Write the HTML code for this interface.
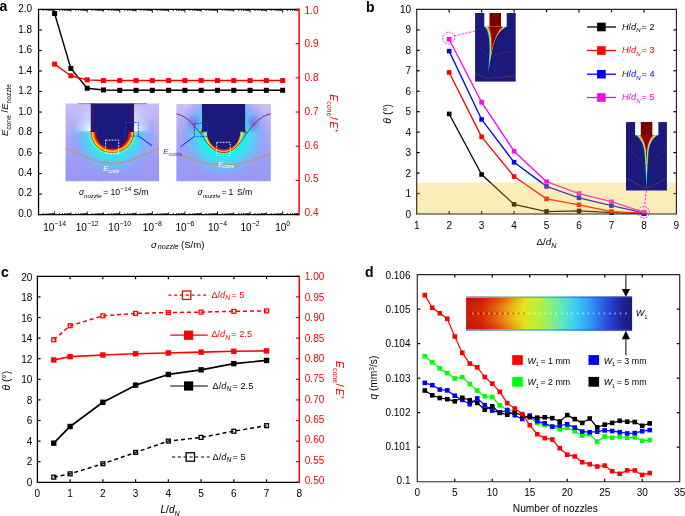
<!DOCTYPE html>
<html><head><meta charset="utf-8"><style>
html,body{margin:0;padding:0;background:#fff;}
svg{display:block;font-family:"Liberation Sans", sans-serif;will-change:transform;}
</style></head><body>
<svg width="685" height="516" viewBox="0 0 685 516">
<rect width="685" height="516" fill="#fff"/>
<text x="-0.60" y="11.30" font-size="14" text-anchor="start" fill="#000" font-weight="bold">a</text>
<line x1="43.20" y1="214.60" x2="43.20" y2="213.00" stroke="#000" stroke-width="0.8" />
<line x1="43.20" y1="9.45" x2="43.20" y2="11.05" stroke="#000" stroke-width="0.8" />
<line x1="46.07" y1="214.60" x2="46.07" y2="213.00" stroke="#000" stroke-width="0.8" />
<line x1="46.07" y1="9.45" x2="46.07" y2="11.05" stroke="#000" stroke-width="0.8" />
<line x1="48.11" y1="214.60" x2="48.11" y2="213.00" stroke="#000" stroke-width="0.8" />
<line x1="48.11" y1="9.45" x2="48.11" y2="11.05" stroke="#000" stroke-width="0.8" />
<line x1="49.69" y1="214.60" x2="49.69" y2="213.00" stroke="#000" stroke-width="0.8" />
<line x1="49.69" y1="9.45" x2="49.69" y2="11.05" stroke="#000" stroke-width="0.8" />
<line x1="50.98" y1="214.60" x2="50.98" y2="213.00" stroke="#000" stroke-width="0.8" />
<line x1="50.98" y1="9.45" x2="50.98" y2="11.05" stroke="#000" stroke-width="0.8" />
<line x1="52.07" y1="214.60" x2="52.07" y2="213.00" stroke="#000" stroke-width="0.8" />
<line x1="52.07" y1="9.45" x2="52.07" y2="11.05" stroke="#000" stroke-width="0.8" />
<line x1="53.01" y1="214.60" x2="53.01" y2="213.00" stroke="#000" stroke-width="0.8" />
<line x1="53.01" y1="9.45" x2="53.01" y2="11.05" stroke="#000" stroke-width="0.8" />
<line x1="53.84" y1="214.60" x2="53.84" y2="213.00" stroke="#000" stroke-width="0.8" />
<line x1="53.84" y1="9.45" x2="53.84" y2="11.05" stroke="#000" stroke-width="0.8" />
<line x1="59.49" y1="214.60" x2="59.49" y2="213.00" stroke="#000" stroke-width="0.8" />
<line x1="59.49" y1="9.45" x2="59.49" y2="11.05" stroke="#000" stroke-width="0.8" />
<line x1="62.36" y1="214.60" x2="62.36" y2="213.00" stroke="#000" stroke-width="0.8" />
<line x1="62.36" y1="9.45" x2="62.36" y2="11.05" stroke="#000" stroke-width="0.8" />
<line x1="64.40" y1="214.60" x2="64.40" y2="213.00" stroke="#000" stroke-width="0.8" />
<line x1="64.40" y1="9.45" x2="64.40" y2="11.05" stroke="#000" stroke-width="0.8" />
<line x1="65.98" y1="214.60" x2="65.98" y2="213.00" stroke="#000" stroke-width="0.8" />
<line x1="65.98" y1="9.45" x2="65.98" y2="11.05" stroke="#000" stroke-width="0.8" />
<line x1="67.27" y1="214.60" x2="67.27" y2="213.00" stroke="#000" stroke-width="0.8" />
<line x1="67.27" y1="9.45" x2="67.27" y2="11.05" stroke="#000" stroke-width="0.8" />
<line x1="68.36" y1="214.60" x2="68.36" y2="213.00" stroke="#000" stroke-width="0.8" />
<line x1="68.36" y1="9.45" x2="68.36" y2="11.05" stroke="#000" stroke-width="0.8" />
<line x1="69.30" y1="214.60" x2="69.30" y2="213.00" stroke="#000" stroke-width="0.8" />
<line x1="69.30" y1="9.45" x2="69.30" y2="11.05" stroke="#000" stroke-width="0.8" />
<line x1="70.13" y1="214.60" x2="70.13" y2="213.00" stroke="#000" stroke-width="0.8" />
<line x1="70.13" y1="9.45" x2="70.13" y2="11.05" stroke="#000" stroke-width="0.8" />
<line x1="54.59" y1="214.60" x2="54.59" y2="211.40" stroke="#000" stroke-width="0.9" />
<line x1="54.59" y1="9.45" x2="54.59" y2="12.65" stroke="#000" stroke-width="0.9" />
<line x1="75.78" y1="214.60" x2="75.78" y2="213.00" stroke="#000" stroke-width="0.8" />
<line x1="75.78" y1="9.45" x2="75.78" y2="11.05" stroke="#000" stroke-width="0.8" />
<line x1="78.65" y1="214.60" x2="78.65" y2="213.00" stroke="#000" stroke-width="0.8" />
<line x1="78.65" y1="9.45" x2="78.65" y2="11.05" stroke="#000" stroke-width="0.8" />
<line x1="80.69" y1="214.60" x2="80.69" y2="213.00" stroke="#000" stroke-width="0.8" />
<line x1="80.69" y1="9.45" x2="80.69" y2="11.05" stroke="#000" stroke-width="0.8" />
<line x1="82.27" y1="214.60" x2="82.27" y2="213.00" stroke="#000" stroke-width="0.8" />
<line x1="82.27" y1="9.45" x2="82.27" y2="11.05" stroke="#000" stroke-width="0.8" />
<line x1="83.56" y1="214.60" x2="83.56" y2="213.00" stroke="#000" stroke-width="0.8" />
<line x1="83.56" y1="9.45" x2="83.56" y2="11.05" stroke="#000" stroke-width="0.8" />
<line x1="84.65" y1="214.60" x2="84.65" y2="213.00" stroke="#000" stroke-width="0.8" />
<line x1="84.65" y1="9.45" x2="84.65" y2="11.05" stroke="#000" stroke-width="0.8" />
<line x1="85.59" y1="214.60" x2="85.59" y2="213.00" stroke="#000" stroke-width="0.8" />
<line x1="85.59" y1="9.45" x2="85.59" y2="11.05" stroke="#000" stroke-width="0.8" />
<line x1="86.42" y1="214.60" x2="86.42" y2="213.00" stroke="#000" stroke-width="0.8" />
<line x1="86.42" y1="9.45" x2="86.42" y2="11.05" stroke="#000" stroke-width="0.8" />
<line x1="70.88" y1="214.60" x2="70.88" y2="212.40" stroke="#000" stroke-width="0.9" />
<line x1="70.88" y1="9.45" x2="70.88" y2="11.65" stroke="#000" stroke-width="0.9" />
<line x1="92.07" y1="214.60" x2="92.07" y2="213.00" stroke="#000" stroke-width="0.8" />
<line x1="92.07" y1="9.45" x2="92.07" y2="11.05" stroke="#000" stroke-width="0.8" />
<line x1="94.94" y1="214.60" x2="94.94" y2="213.00" stroke="#000" stroke-width="0.8" />
<line x1="94.94" y1="9.45" x2="94.94" y2="11.05" stroke="#000" stroke-width="0.8" />
<line x1="96.98" y1="214.60" x2="96.98" y2="213.00" stroke="#000" stroke-width="0.8" />
<line x1="96.98" y1="9.45" x2="96.98" y2="11.05" stroke="#000" stroke-width="0.8" />
<line x1="98.56" y1="214.60" x2="98.56" y2="213.00" stroke="#000" stroke-width="0.8" />
<line x1="98.56" y1="9.45" x2="98.56" y2="11.05" stroke="#000" stroke-width="0.8" />
<line x1="99.85" y1="214.60" x2="99.85" y2="213.00" stroke="#000" stroke-width="0.8" />
<line x1="99.85" y1="9.45" x2="99.85" y2="11.05" stroke="#000" stroke-width="0.8" />
<line x1="100.94" y1="214.60" x2="100.94" y2="213.00" stroke="#000" stroke-width="0.8" />
<line x1="100.94" y1="9.45" x2="100.94" y2="11.05" stroke="#000" stroke-width="0.8" />
<line x1="101.88" y1="214.60" x2="101.88" y2="213.00" stroke="#000" stroke-width="0.8" />
<line x1="101.88" y1="9.45" x2="101.88" y2="11.05" stroke="#000" stroke-width="0.8" />
<line x1="102.71" y1="214.60" x2="102.71" y2="213.00" stroke="#000" stroke-width="0.8" />
<line x1="102.71" y1="9.45" x2="102.71" y2="11.05" stroke="#000" stroke-width="0.8" />
<line x1="87.17" y1="214.60" x2="87.17" y2="211.40" stroke="#000" stroke-width="0.9" />
<line x1="87.17" y1="9.45" x2="87.17" y2="12.65" stroke="#000" stroke-width="0.9" />
<line x1="108.36" y1="214.60" x2="108.36" y2="213.00" stroke="#000" stroke-width="0.8" />
<line x1="108.36" y1="9.45" x2="108.36" y2="11.05" stroke="#000" stroke-width="0.8" />
<line x1="111.23" y1="214.60" x2="111.23" y2="213.00" stroke="#000" stroke-width="0.8" />
<line x1="111.23" y1="9.45" x2="111.23" y2="11.05" stroke="#000" stroke-width="0.8" />
<line x1="113.27" y1="214.60" x2="113.27" y2="213.00" stroke="#000" stroke-width="0.8" />
<line x1="113.27" y1="9.45" x2="113.27" y2="11.05" stroke="#000" stroke-width="0.8" />
<line x1="114.85" y1="214.60" x2="114.85" y2="213.00" stroke="#000" stroke-width="0.8" />
<line x1="114.85" y1="9.45" x2="114.85" y2="11.05" stroke="#000" stroke-width="0.8" />
<line x1="116.14" y1="214.60" x2="116.14" y2="213.00" stroke="#000" stroke-width="0.8" />
<line x1="116.14" y1="9.45" x2="116.14" y2="11.05" stroke="#000" stroke-width="0.8" />
<line x1="117.23" y1="214.60" x2="117.23" y2="213.00" stroke="#000" stroke-width="0.8" />
<line x1="117.23" y1="9.45" x2="117.23" y2="11.05" stroke="#000" stroke-width="0.8" />
<line x1="118.17" y1="214.60" x2="118.17" y2="213.00" stroke="#000" stroke-width="0.8" />
<line x1="118.17" y1="9.45" x2="118.17" y2="11.05" stroke="#000" stroke-width="0.8" />
<line x1="119.00" y1="214.60" x2="119.00" y2="213.00" stroke="#000" stroke-width="0.8" />
<line x1="119.00" y1="9.45" x2="119.00" y2="11.05" stroke="#000" stroke-width="0.8" />
<line x1="103.46" y1="214.60" x2="103.46" y2="212.40" stroke="#000" stroke-width="0.9" />
<line x1="103.46" y1="9.45" x2="103.46" y2="11.65" stroke="#000" stroke-width="0.9" />
<line x1="124.65" y1="214.60" x2="124.65" y2="213.00" stroke="#000" stroke-width="0.8" />
<line x1="124.65" y1="9.45" x2="124.65" y2="11.05" stroke="#000" stroke-width="0.8" />
<line x1="127.52" y1="214.60" x2="127.52" y2="213.00" stroke="#000" stroke-width="0.8" />
<line x1="127.52" y1="9.45" x2="127.52" y2="11.05" stroke="#000" stroke-width="0.8" />
<line x1="129.56" y1="214.60" x2="129.56" y2="213.00" stroke="#000" stroke-width="0.8" />
<line x1="129.56" y1="9.45" x2="129.56" y2="11.05" stroke="#000" stroke-width="0.8" />
<line x1="131.14" y1="214.60" x2="131.14" y2="213.00" stroke="#000" stroke-width="0.8" />
<line x1="131.14" y1="9.45" x2="131.14" y2="11.05" stroke="#000" stroke-width="0.8" />
<line x1="132.43" y1="214.60" x2="132.43" y2="213.00" stroke="#000" stroke-width="0.8" />
<line x1="132.43" y1="9.45" x2="132.43" y2="11.05" stroke="#000" stroke-width="0.8" />
<line x1="133.52" y1="214.60" x2="133.52" y2="213.00" stroke="#000" stroke-width="0.8" />
<line x1="133.52" y1="9.45" x2="133.52" y2="11.05" stroke="#000" stroke-width="0.8" />
<line x1="134.46" y1="214.60" x2="134.46" y2="213.00" stroke="#000" stroke-width="0.8" />
<line x1="134.46" y1="9.45" x2="134.46" y2="11.05" stroke="#000" stroke-width="0.8" />
<line x1="135.29" y1="214.60" x2="135.29" y2="213.00" stroke="#000" stroke-width="0.8" />
<line x1="135.29" y1="9.45" x2="135.29" y2="11.05" stroke="#000" stroke-width="0.8" />
<line x1="119.75" y1="214.60" x2="119.75" y2="211.40" stroke="#000" stroke-width="0.9" />
<line x1="119.75" y1="9.45" x2="119.75" y2="12.65" stroke="#000" stroke-width="0.9" />
<line x1="140.94" y1="214.60" x2="140.94" y2="213.00" stroke="#000" stroke-width="0.8" />
<line x1="140.94" y1="9.45" x2="140.94" y2="11.05" stroke="#000" stroke-width="0.8" />
<line x1="143.81" y1="214.60" x2="143.81" y2="213.00" stroke="#000" stroke-width="0.8" />
<line x1="143.81" y1="9.45" x2="143.81" y2="11.05" stroke="#000" stroke-width="0.8" />
<line x1="145.85" y1="214.60" x2="145.85" y2="213.00" stroke="#000" stroke-width="0.8" />
<line x1="145.85" y1="9.45" x2="145.85" y2="11.05" stroke="#000" stroke-width="0.8" />
<line x1="147.43" y1="214.60" x2="147.43" y2="213.00" stroke="#000" stroke-width="0.8" />
<line x1="147.43" y1="9.45" x2="147.43" y2="11.05" stroke="#000" stroke-width="0.8" />
<line x1="148.72" y1="214.60" x2="148.72" y2="213.00" stroke="#000" stroke-width="0.8" />
<line x1="148.72" y1="9.45" x2="148.72" y2="11.05" stroke="#000" stroke-width="0.8" />
<line x1="149.81" y1="214.60" x2="149.81" y2="213.00" stroke="#000" stroke-width="0.8" />
<line x1="149.81" y1="9.45" x2="149.81" y2="11.05" stroke="#000" stroke-width="0.8" />
<line x1="150.75" y1="214.60" x2="150.75" y2="213.00" stroke="#000" stroke-width="0.8" />
<line x1="150.75" y1="9.45" x2="150.75" y2="11.05" stroke="#000" stroke-width="0.8" />
<line x1="151.58" y1="214.60" x2="151.58" y2="213.00" stroke="#000" stroke-width="0.8" />
<line x1="151.58" y1="9.45" x2="151.58" y2="11.05" stroke="#000" stroke-width="0.8" />
<line x1="136.04" y1="214.60" x2="136.04" y2="212.40" stroke="#000" stroke-width="0.9" />
<line x1="136.04" y1="9.45" x2="136.04" y2="11.65" stroke="#000" stroke-width="0.9" />
<line x1="157.23" y1="214.60" x2="157.23" y2="213.00" stroke="#000" stroke-width="0.8" />
<line x1="157.23" y1="9.45" x2="157.23" y2="11.05" stroke="#000" stroke-width="0.8" />
<line x1="160.10" y1="214.60" x2="160.10" y2="213.00" stroke="#000" stroke-width="0.8" />
<line x1="160.10" y1="9.45" x2="160.10" y2="11.05" stroke="#000" stroke-width="0.8" />
<line x1="162.14" y1="214.60" x2="162.14" y2="213.00" stroke="#000" stroke-width="0.8" />
<line x1="162.14" y1="9.45" x2="162.14" y2="11.05" stroke="#000" stroke-width="0.8" />
<line x1="163.72" y1="214.60" x2="163.72" y2="213.00" stroke="#000" stroke-width="0.8" />
<line x1="163.72" y1="9.45" x2="163.72" y2="11.05" stroke="#000" stroke-width="0.8" />
<line x1="165.01" y1="214.60" x2="165.01" y2="213.00" stroke="#000" stroke-width="0.8" />
<line x1="165.01" y1="9.45" x2="165.01" y2="11.05" stroke="#000" stroke-width="0.8" />
<line x1="166.10" y1="214.60" x2="166.10" y2="213.00" stroke="#000" stroke-width="0.8" />
<line x1="166.10" y1="9.45" x2="166.10" y2="11.05" stroke="#000" stroke-width="0.8" />
<line x1="167.04" y1="214.60" x2="167.04" y2="213.00" stroke="#000" stroke-width="0.8" />
<line x1="167.04" y1="9.45" x2="167.04" y2="11.05" stroke="#000" stroke-width="0.8" />
<line x1="167.87" y1="214.60" x2="167.87" y2="213.00" stroke="#000" stroke-width="0.8" />
<line x1="167.87" y1="9.45" x2="167.87" y2="11.05" stroke="#000" stroke-width="0.8" />
<line x1="152.33" y1="214.60" x2="152.33" y2="211.40" stroke="#000" stroke-width="0.9" />
<line x1="152.33" y1="9.45" x2="152.33" y2="12.65" stroke="#000" stroke-width="0.9" />
<line x1="173.52" y1="214.60" x2="173.52" y2="213.00" stroke="#000" stroke-width="0.8" />
<line x1="173.52" y1="9.45" x2="173.52" y2="11.05" stroke="#000" stroke-width="0.8" />
<line x1="176.39" y1="214.60" x2="176.39" y2="213.00" stroke="#000" stroke-width="0.8" />
<line x1="176.39" y1="9.45" x2="176.39" y2="11.05" stroke="#000" stroke-width="0.8" />
<line x1="178.43" y1="214.60" x2="178.43" y2="213.00" stroke="#000" stroke-width="0.8" />
<line x1="178.43" y1="9.45" x2="178.43" y2="11.05" stroke="#000" stroke-width="0.8" />
<line x1="180.01" y1="214.60" x2="180.01" y2="213.00" stroke="#000" stroke-width="0.8" />
<line x1="180.01" y1="9.45" x2="180.01" y2="11.05" stroke="#000" stroke-width="0.8" />
<line x1="181.30" y1="214.60" x2="181.30" y2="213.00" stroke="#000" stroke-width="0.8" />
<line x1="181.30" y1="9.45" x2="181.30" y2="11.05" stroke="#000" stroke-width="0.8" />
<line x1="182.39" y1="214.60" x2="182.39" y2="213.00" stroke="#000" stroke-width="0.8" />
<line x1="182.39" y1="9.45" x2="182.39" y2="11.05" stroke="#000" stroke-width="0.8" />
<line x1="183.33" y1="214.60" x2="183.33" y2="213.00" stroke="#000" stroke-width="0.8" />
<line x1="183.33" y1="9.45" x2="183.33" y2="11.05" stroke="#000" stroke-width="0.8" />
<line x1="184.16" y1="214.60" x2="184.16" y2="213.00" stroke="#000" stroke-width="0.8" />
<line x1="184.16" y1="9.45" x2="184.16" y2="11.05" stroke="#000" stroke-width="0.8" />
<line x1="168.62" y1="214.60" x2="168.62" y2="212.40" stroke="#000" stroke-width="0.9" />
<line x1="168.62" y1="9.45" x2="168.62" y2="11.65" stroke="#000" stroke-width="0.9" />
<line x1="189.81" y1="214.60" x2="189.81" y2="213.00" stroke="#000" stroke-width="0.8" />
<line x1="189.81" y1="9.45" x2="189.81" y2="11.05" stroke="#000" stroke-width="0.8" />
<line x1="192.68" y1="214.60" x2="192.68" y2="213.00" stroke="#000" stroke-width="0.8" />
<line x1="192.68" y1="9.45" x2="192.68" y2="11.05" stroke="#000" stroke-width="0.8" />
<line x1="194.72" y1="214.60" x2="194.72" y2="213.00" stroke="#000" stroke-width="0.8" />
<line x1="194.72" y1="9.45" x2="194.72" y2="11.05" stroke="#000" stroke-width="0.8" />
<line x1="196.30" y1="214.60" x2="196.30" y2="213.00" stroke="#000" stroke-width="0.8" />
<line x1="196.30" y1="9.45" x2="196.30" y2="11.05" stroke="#000" stroke-width="0.8" />
<line x1="197.59" y1="214.60" x2="197.59" y2="213.00" stroke="#000" stroke-width="0.8" />
<line x1="197.59" y1="9.45" x2="197.59" y2="11.05" stroke="#000" stroke-width="0.8" />
<line x1="198.68" y1="214.60" x2="198.68" y2="213.00" stroke="#000" stroke-width="0.8" />
<line x1="198.68" y1="9.45" x2="198.68" y2="11.05" stroke="#000" stroke-width="0.8" />
<line x1="199.62" y1="214.60" x2="199.62" y2="213.00" stroke="#000" stroke-width="0.8" />
<line x1="199.62" y1="9.45" x2="199.62" y2="11.05" stroke="#000" stroke-width="0.8" />
<line x1="200.45" y1="214.60" x2="200.45" y2="213.00" stroke="#000" stroke-width="0.8" />
<line x1="200.45" y1="9.45" x2="200.45" y2="11.05" stroke="#000" stroke-width="0.8" />
<line x1="184.91" y1="214.60" x2="184.91" y2="211.40" stroke="#000" stroke-width="0.9" />
<line x1="184.91" y1="9.45" x2="184.91" y2="12.65" stroke="#000" stroke-width="0.9" />
<line x1="206.10" y1="214.60" x2="206.10" y2="213.00" stroke="#000" stroke-width="0.8" />
<line x1="206.10" y1="9.45" x2="206.10" y2="11.05" stroke="#000" stroke-width="0.8" />
<line x1="208.97" y1="214.60" x2="208.97" y2="213.00" stroke="#000" stroke-width="0.8" />
<line x1="208.97" y1="9.45" x2="208.97" y2="11.05" stroke="#000" stroke-width="0.8" />
<line x1="211.01" y1="214.60" x2="211.01" y2="213.00" stroke="#000" stroke-width="0.8" />
<line x1="211.01" y1="9.45" x2="211.01" y2="11.05" stroke="#000" stroke-width="0.8" />
<line x1="212.59" y1="214.60" x2="212.59" y2="213.00" stroke="#000" stroke-width="0.8" />
<line x1="212.59" y1="9.45" x2="212.59" y2="11.05" stroke="#000" stroke-width="0.8" />
<line x1="213.88" y1="214.60" x2="213.88" y2="213.00" stroke="#000" stroke-width="0.8" />
<line x1="213.88" y1="9.45" x2="213.88" y2="11.05" stroke="#000" stroke-width="0.8" />
<line x1="214.97" y1="214.60" x2="214.97" y2="213.00" stroke="#000" stroke-width="0.8" />
<line x1="214.97" y1="9.45" x2="214.97" y2="11.05" stroke="#000" stroke-width="0.8" />
<line x1="215.91" y1="214.60" x2="215.91" y2="213.00" stroke="#000" stroke-width="0.8" />
<line x1="215.91" y1="9.45" x2="215.91" y2="11.05" stroke="#000" stroke-width="0.8" />
<line x1="216.74" y1="214.60" x2="216.74" y2="213.00" stroke="#000" stroke-width="0.8" />
<line x1="216.74" y1="9.45" x2="216.74" y2="11.05" stroke="#000" stroke-width="0.8" />
<line x1="201.20" y1="214.60" x2="201.20" y2="212.40" stroke="#000" stroke-width="0.9" />
<line x1="201.20" y1="9.45" x2="201.20" y2="11.65" stroke="#000" stroke-width="0.9" />
<line x1="222.39" y1="214.60" x2="222.39" y2="213.00" stroke="#000" stroke-width="0.8" />
<line x1="222.39" y1="9.45" x2="222.39" y2="11.05" stroke="#000" stroke-width="0.8" />
<line x1="225.26" y1="214.60" x2="225.26" y2="213.00" stroke="#000" stroke-width="0.8" />
<line x1="225.26" y1="9.45" x2="225.26" y2="11.05" stroke="#000" stroke-width="0.8" />
<line x1="227.30" y1="214.60" x2="227.30" y2="213.00" stroke="#000" stroke-width="0.8" />
<line x1="227.30" y1="9.45" x2="227.30" y2="11.05" stroke="#000" stroke-width="0.8" />
<line x1="228.88" y1="214.60" x2="228.88" y2="213.00" stroke="#000" stroke-width="0.8" />
<line x1="228.88" y1="9.45" x2="228.88" y2="11.05" stroke="#000" stroke-width="0.8" />
<line x1="230.17" y1="214.60" x2="230.17" y2="213.00" stroke="#000" stroke-width="0.8" />
<line x1="230.17" y1="9.45" x2="230.17" y2="11.05" stroke="#000" stroke-width="0.8" />
<line x1="231.26" y1="214.60" x2="231.26" y2="213.00" stroke="#000" stroke-width="0.8" />
<line x1="231.26" y1="9.45" x2="231.26" y2="11.05" stroke="#000" stroke-width="0.8" />
<line x1="232.20" y1="214.60" x2="232.20" y2="213.00" stroke="#000" stroke-width="0.8" />
<line x1="232.20" y1="9.45" x2="232.20" y2="11.05" stroke="#000" stroke-width="0.8" />
<line x1="233.03" y1="214.60" x2="233.03" y2="213.00" stroke="#000" stroke-width="0.8" />
<line x1="233.03" y1="9.45" x2="233.03" y2="11.05" stroke="#000" stroke-width="0.8" />
<line x1="217.49" y1="214.60" x2="217.49" y2="211.40" stroke="#000" stroke-width="0.9" />
<line x1="217.49" y1="9.45" x2="217.49" y2="12.65" stroke="#000" stroke-width="0.9" />
<line x1="238.68" y1="214.60" x2="238.68" y2="213.00" stroke="#000" stroke-width="0.8" />
<line x1="238.68" y1="9.45" x2="238.68" y2="11.05" stroke="#000" stroke-width="0.8" />
<line x1="241.55" y1="214.60" x2="241.55" y2="213.00" stroke="#000" stroke-width="0.8" />
<line x1="241.55" y1="9.45" x2="241.55" y2="11.05" stroke="#000" stroke-width="0.8" />
<line x1="243.59" y1="214.60" x2="243.59" y2="213.00" stroke="#000" stroke-width="0.8" />
<line x1="243.59" y1="9.45" x2="243.59" y2="11.05" stroke="#000" stroke-width="0.8" />
<line x1="245.17" y1="214.60" x2="245.17" y2="213.00" stroke="#000" stroke-width="0.8" />
<line x1="245.17" y1="9.45" x2="245.17" y2="11.05" stroke="#000" stroke-width="0.8" />
<line x1="246.46" y1="214.60" x2="246.46" y2="213.00" stroke="#000" stroke-width="0.8" />
<line x1="246.46" y1="9.45" x2="246.46" y2="11.05" stroke="#000" stroke-width="0.8" />
<line x1="247.55" y1="214.60" x2="247.55" y2="213.00" stroke="#000" stroke-width="0.8" />
<line x1="247.55" y1="9.45" x2="247.55" y2="11.05" stroke="#000" stroke-width="0.8" />
<line x1="248.49" y1="214.60" x2="248.49" y2="213.00" stroke="#000" stroke-width="0.8" />
<line x1="248.49" y1="9.45" x2="248.49" y2="11.05" stroke="#000" stroke-width="0.8" />
<line x1="249.32" y1="214.60" x2="249.32" y2="213.00" stroke="#000" stroke-width="0.8" />
<line x1="249.32" y1="9.45" x2="249.32" y2="11.05" stroke="#000" stroke-width="0.8" />
<line x1="233.78" y1="214.60" x2="233.78" y2="212.40" stroke="#000" stroke-width="0.9" />
<line x1="233.78" y1="9.45" x2="233.78" y2="11.65" stroke="#000" stroke-width="0.9" />
<line x1="254.97" y1="214.60" x2="254.97" y2="213.00" stroke="#000" stroke-width="0.8" />
<line x1="254.97" y1="9.45" x2="254.97" y2="11.05" stroke="#000" stroke-width="0.8" />
<line x1="257.84" y1="214.60" x2="257.84" y2="213.00" stroke="#000" stroke-width="0.8" />
<line x1="257.84" y1="9.45" x2="257.84" y2="11.05" stroke="#000" stroke-width="0.8" />
<line x1="259.88" y1="214.60" x2="259.88" y2="213.00" stroke="#000" stroke-width="0.8" />
<line x1="259.88" y1="9.45" x2="259.88" y2="11.05" stroke="#000" stroke-width="0.8" />
<line x1="261.46" y1="214.60" x2="261.46" y2="213.00" stroke="#000" stroke-width="0.8" />
<line x1="261.46" y1="9.45" x2="261.46" y2="11.05" stroke="#000" stroke-width="0.8" />
<line x1="262.75" y1="214.60" x2="262.75" y2="213.00" stroke="#000" stroke-width="0.8" />
<line x1="262.75" y1="9.45" x2="262.75" y2="11.05" stroke="#000" stroke-width="0.8" />
<line x1="263.84" y1="214.60" x2="263.84" y2="213.00" stroke="#000" stroke-width="0.8" />
<line x1="263.84" y1="9.45" x2="263.84" y2="11.05" stroke="#000" stroke-width="0.8" />
<line x1="264.78" y1="214.60" x2="264.78" y2="213.00" stroke="#000" stroke-width="0.8" />
<line x1="264.78" y1="9.45" x2="264.78" y2="11.05" stroke="#000" stroke-width="0.8" />
<line x1="265.61" y1="214.60" x2="265.61" y2="213.00" stroke="#000" stroke-width="0.8" />
<line x1="265.61" y1="9.45" x2="265.61" y2="11.05" stroke="#000" stroke-width="0.8" />
<line x1="250.07" y1="214.60" x2="250.07" y2="211.40" stroke="#000" stroke-width="0.9" />
<line x1="250.07" y1="9.45" x2="250.07" y2="12.65" stroke="#000" stroke-width="0.9" />
<line x1="271.26" y1="214.60" x2="271.26" y2="213.00" stroke="#000" stroke-width="0.8" />
<line x1="271.26" y1="9.45" x2="271.26" y2="11.05" stroke="#000" stroke-width="0.8" />
<line x1="274.13" y1="214.60" x2="274.13" y2="213.00" stroke="#000" stroke-width="0.8" />
<line x1="274.13" y1="9.45" x2="274.13" y2="11.05" stroke="#000" stroke-width="0.8" />
<line x1="276.17" y1="214.60" x2="276.17" y2="213.00" stroke="#000" stroke-width="0.8" />
<line x1="276.17" y1="9.45" x2="276.17" y2="11.05" stroke="#000" stroke-width="0.8" />
<line x1="277.75" y1="214.60" x2="277.75" y2="213.00" stroke="#000" stroke-width="0.8" />
<line x1="277.75" y1="9.45" x2="277.75" y2="11.05" stroke="#000" stroke-width="0.8" />
<line x1="279.04" y1="214.60" x2="279.04" y2="213.00" stroke="#000" stroke-width="0.8" />
<line x1="279.04" y1="9.45" x2="279.04" y2="11.05" stroke="#000" stroke-width="0.8" />
<line x1="280.13" y1="214.60" x2="280.13" y2="213.00" stroke="#000" stroke-width="0.8" />
<line x1="280.13" y1="9.45" x2="280.13" y2="11.05" stroke="#000" stroke-width="0.8" />
<line x1="281.07" y1="214.60" x2="281.07" y2="213.00" stroke="#000" stroke-width="0.8" />
<line x1="281.07" y1="9.45" x2="281.07" y2="11.05" stroke="#000" stroke-width="0.8" />
<line x1="281.90" y1="214.60" x2="281.90" y2="213.00" stroke="#000" stroke-width="0.8" />
<line x1="281.90" y1="9.45" x2="281.90" y2="11.05" stroke="#000" stroke-width="0.8" />
<line x1="266.36" y1="214.60" x2="266.36" y2="212.40" stroke="#000" stroke-width="0.9" />
<line x1="266.36" y1="9.45" x2="266.36" y2="11.65" stroke="#000" stroke-width="0.9" />
<line x1="287.55" y1="214.60" x2="287.55" y2="213.00" stroke="#000" stroke-width="0.8" />
<line x1="287.55" y1="9.45" x2="287.55" y2="11.05" stroke="#000" stroke-width="0.8" />
<line x1="290.42" y1="214.60" x2="290.42" y2="213.00" stroke="#000" stroke-width="0.8" />
<line x1="290.42" y1="9.45" x2="290.42" y2="11.05" stroke="#000" stroke-width="0.8" />
<line x1="292.46" y1="214.60" x2="292.46" y2="213.00" stroke="#000" stroke-width="0.8" />
<line x1="292.46" y1="9.45" x2="292.46" y2="11.05" stroke="#000" stroke-width="0.8" />
<line x1="294.04" y1="214.60" x2="294.04" y2="213.00" stroke="#000" stroke-width="0.8" />
<line x1="294.04" y1="9.45" x2="294.04" y2="11.05" stroke="#000" stroke-width="0.8" />
<line x1="295.33" y1="214.60" x2="295.33" y2="213.00" stroke="#000" stroke-width="0.8" />
<line x1="295.33" y1="9.45" x2="295.33" y2="11.05" stroke="#000" stroke-width="0.8" />
<line x1="296.42" y1="214.60" x2="296.42" y2="213.00" stroke="#000" stroke-width="0.8" />
<line x1="296.42" y1="9.45" x2="296.42" y2="11.05" stroke="#000" stroke-width="0.8" />
<line x1="297.36" y1="214.60" x2="297.36" y2="213.00" stroke="#000" stroke-width="0.8" />
<line x1="297.36" y1="9.45" x2="297.36" y2="11.05" stroke="#000" stroke-width="0.8" />
<line x1="298.19" y1="214.60" x2="298.19" y2="213.00" stroke="#000" stroke-width="0.8" />
<line x1="298.19" y1="9.45" x2="298.19" y2="11.05" stroke="#000" stroke-width="0.8" />
<line x1="282.65" y1="214.60" x2="282.65" y2="211.40" stroke="#000" stroke-width="0.9" />
<line x1="282.65" y1="9.45" x2="282.65" y2="12.65" stroke="#000" stroke-width="0.9" />
<text x="32.10" y="216.88" font-size="10.0" text-anchor="end" fill="#000" >0.0</text>
<line x1="38.55" y1="194.08" x2="41.75" y2="194.08" stroke="#000" stroke-width="1.2" />
<text x="32.10" y="196.44" font-size="10.0" text-anchor="end" fill="#000" >0.2</text>
<line x1="38.55" y1="173.57" x2="41.75" y2="173.57" stroke="#000" stroke-width="1.2" />
<text x="32.10" y="175.99" font-size="10.0" text-anchor="end" fill="#000" >0.4</text>
<line x1="38.55" y1="153.05" x2="41.75" y2="153.05" stroke="#000" stroke-width="1.2" />
<text x="32.10" y="155.55" font-size="10.0" text-anchor="end" fill="#000" >0.6</text>
<line x1="38.55" y1="132.54" x2="41.75" y2="132.54" stroke="#000" stroke-width="1.2" />
<text x="32.10" y="135.10" font-size="10.0" text-anchor="end" fill="#000" >0.8</text>
<line x1="38.55" y1="112.02" x2="41.75" y2="112.02" stroke="#000" stroke-width="1.2" />
<text x="32.10" y="114.65" font-size="10.0" text-anchor="end" fill="#000" >1.0</text>
<line x1="38.55" y1="91.51" x2="41.75" y2="91.51" stroke="#000" stroke-width="1.2" />
<text x="32.10" y="94.21" font-size="10.0" text-anchor="end" fill="#000" >1.2</text>
<line x1="38.55" y1="70.99" x2="41.75" y2="70.99" stroke="#000" stroke-width="1.2" />
<text x="32.10" y="73.77" font-size="10.0" text-anchor="end" fill="#000" >1.4</text>
<line x1="38.55" y1="50.48" x2="41.75" y2="50.48" stroke="#000" stroke-width="1.2" />
<text x="32.10" y="53.32" font-size="10.0" text-anchor="end" fill="#000" >1.6</text>
<line x1="38.55" y1="29.96" x2="41.75" y2="29.96" stroke="#000" stroke-width="1.2" />
<text x="32.10" y="32.88" font-size="10.0" text-anchor="end" fill="#000" >1.8</text>
<text x="32.10" y="12.43" font-size="10.0" text-anchor="end" fill="#000" >2.0</text>
<line x1="299.10" y1="214.60" x2="295.70" y2="214.60" stroke="#f00" stroke-width="1.2" />
<text x="304.60" y="215.96" font-size="10.0" text-anchor="start" fill="#f00" >0.4</text>
<line x1="299.10" y1="180.41" x2="295.70" y2="180.41" stroke="#f00" stroke-width="1.2" />
<text x="304.60" y="182.23" font-size="10.0" text-anchor="start" fill="#f00" >0.5</text>
<line x1="299.10" y1="146.22" x2="295.70" y2="146.22" stroke="#f00" stroke-width="1.2" />
<text x="304.60" y="148.50" font-size="10.0" text-anchor="start" fill="#f00" >0.6</text>
<line x1="299.10" y1="112.02" x2="295.70" y2="112.02" stroke="#f00" stroke-width="1.2" />
<text x="304.60" y="114.77" font-size="10.0" text-anchor="start" fill="#f00" >0.7</text>
<line x1="299.10" y1="77.83" x2="295.70" y2="77.83" stroke="#f00" stroke-width="1.2" />
<text x="304.60" y="81.04" font-size="10.0" text-anchor="start" fill="#f00" >0.8</text>
<line x1="299.10" y1="43.64" x2="295.70" y2="43.64" stroke="#f00" stroke-width="1.2" />
<text x="304.60" y="47.31" font-size="10.0" text-anchor="start" fill="#f00" >0.9</text>
<line x1="299.10" y1="9.45" x2="295.70" y2="9.45" stroke="#f00" stroke-width="1.2" />
<text x="304.60" y="13.58" font-size="10.0" text-anchor="start" fill="#f00" >1.0</text>
<line x1="38.55" y1="9.45" x2="299.10" y2="9.45" stroke="#000" stroke-width="1.3" />
<line x1="38.55" y1="214.60" x2="299.10" y2="214.60" stroke="#000" stroke-width="1.3" />
<line x1="38.55" y1="8.80" x2="38.55" y2="215.25" stroke="#000" stroke-width="1.3" />
<line x1="299.10" y1="8.80" x2="299.10" y2="215.25" stroke="#f00" stroke-width="1.5" />
<line x1="295.80" y1="9.45" x2="299.10" y2="9.45" stroke="#f00" stroke-width="1.3" />
<text x="54.59" y="230.6" font-size="10.0" text-anchor="middle">10<tspan font-size="6.9" dy="-4.6">−14</tspan></text>
<text x="87.17" y="230.6" font-size="10.0" text-anchor="middle">10<tspan font-size="6.9" dy="-4.6">−12</tspan></text>
<text x="119.75" y="230.6" font-size="10.0" text-anchor="middle">10<tspan font-size="6.9" dy="-4.6">−10</tspan></text>
<text x="152.33" y="230.6" font-size="10.0" text-anchor="middle">10<tspan font-size="6.9" dy="-4.6">−8</tspan></text>
<text x="184.91" y="230.6" font-size="10.0" text-anchor="middle">10<tspan font-size="6.9" dy="-4.6">−6</tspan></text>
<text x="217.49" y="230.6" font-size="10.0" text-anchor="middle">10<tspan font-size="6.9" dy="-4.6">−4</tspan></text>
<text x="250.07" y="230.6" font-size="10.0" text-anchor="middle">10<tspan font-size="6.9" dy="-4.6">−2</tspan></text>
<text x="282.65" y="230.6" font-size="10.0" text-anchor="middle">10<tspan font-size="6.9" dy="-4.6">0</tspan></text>
<text x="151" y="247.6" font-size="9.6"><tspan font-style="italic">σ</tspan><tspan font-size="7.2" font-style="italic" dy="1.8" dx="1">nozzle</tspan><tspan dy="-1.8" dx="2.4">(S/m)</tspan></text>
<text transform="translate(8.2,110) rotate(-90)" font-size="9.4" text-anchor="middle"><tspan font-style="italic">E</tspan><tspan font-size="6.8" dy="2.3">cone</tspan><tspan dy="-2.3"> /</tspan><tspan font-style="italic">E</tspan><tspan font-size="6.8" dy="2.3">nozzle</tspan></text>
<text transform="translate(330.4,94.2) rotate(90)" font-size="10.4" fill="#f00"><tspan font-style="italic">E</tspan><tspan font-size="7" dy="3">cone</tspan><tspan dy="-3" dx="0.6">/</tspan><tspan font-style="italic" dx="1.8">E</tspan><tspan font-size="7.4" dy="-2.6" dx="0.6">*</tspan></text>

<defs>
 <linearGradient id="a1bg" x1="0" y1="0" x2="0" y2="1">
  <stop offset="0" stop-color="#c4bef8"/><stop offset="0.4" stop-color="#b2acf6"/><stop offset="0.7" stop-color="#9e9cf5"/><stop offset="1" stop-color="#9898f4"/>
 </linearGradient>
 <radialGradient id="a1glow" cx="0.5" cy="0.5" r="0.5">
  <stop offset="0" stop-color="#18f2f0"/><stop offset="0.42" stop-color="#18f0f0"/><stop offset="0.54" stop-color="#40dcf4"/><stop offset="0.68" stop-color="#6ebcfa"/><stop offset="0.84" stop-color="#88a6f8" stop-opacity="0.6"/><stop offset="1" stop-color="#9898f4" stop-opacity="0"/>
 </radialGradient>
 <linearGradient id="wgl" x1="0" y1="0" x2="1" y2="0">
  <stop offset="0" stop-color="#ffffff" stop-opacity="0"/><stop offset="1" stop-color="#ffffff" stop-opacity="0.9"/>
 </linearGradient>
 <linearGradient id="wgr" x1="1" y1="0" x2="0" y2="0">
  <stop offset="0" stop-color="#ffffff" stop-opacity="0"/><stop offset="1" stop-color="#ffffff" stop-opacity="0.9"/>
 </linearGradient>
 <linearGradient id="wgv" x1="0" y1="0" x2="0" y2="1">
  <stop offset="0" stop-color="#fff" stop-opacity="0"/><stop offset="0.55" stop-color="#fff" stop-opacity="0.5"/><stop offset="0.85" stop-color="#fff" stop-opacity="1"/><stop offset="1" stop-color="#fff" stop-opacity="1"/>
 </linearGradient>
 <mask id="wmask" maskContentUnits="objectBoundingBox"><rect width="1" height="1" fill="url(#wgv)"/></mask>
 <radialGradient id="vglow" cx="0.5" cy="0.5" r="0.5">
  <stop offset="0" stop-color="#7868f0" stop-opacity="0.85"/><stop offset="1" stop-color="#7868f0" stop-opacity="0"/>
 </radialGradient>
 <clipPath id="a1clip"><rect x="65.3" y="103.3" width="93.9" height="78.1"/></clipPath>
 <linearGradient id="gmv" x1="0" y1="0" x2="0" y2="1"><stop offset="0" stop-color="#000"/><stop offset="0.15" stop-color="#000"/><stop offset="0.36" stop-color="#aaa"/><stop offset="0.42" stop-color="#fff"/><stop offset="1" stop-color="#fff"/></linearGradient>
 <mask id="a1mask" maskUnits="userSpaceOnUse" x="60" y="100" width="105" height="85"><rect x="60" y="103.3" width="105" height="78.1" fill="url(#gmv)"/></mask>
 <clipPath id="a2clip"><rect x="176.2" y="104.1" width="94.7" height="77.3"/></clipPath>
</defs>
<g clip-path="url(#a1clip)">
 <rect x="65.3" y="103.3" width="93.9" height="78.1" fill="url(#a1bg)"/>
 <ellipse cx="112.4" cy="134" rx="46" ry="46" fill="url(#a1glow)" mask="url(#a1mask)"/>
 <rect x="74" y="104" width="16.8" height="27.6" fill="url(#wgl)" mask="url(#wmask)"/>
 <rect x="134" y="104" width="16.8" height="27.6" fill="url(#wgr)" mask="url(#wmask)"/>
 <path d="M88.6,132 A23.8,23 0 0 0 136.2,132 Z" fill="#70f0b0" opacity="0.8"/>
 <path d="M90.8,132 A21.6,20.8 0 0 0 134,132 Z" fill="#e8f030"/>
 <path d="M92.1,132 A20.3,19.6 0 0 0 132.7,132 Z" fill="#ffb000"/>
 <path d="M93.4,132 A19,18.5 0 0 0 131.4,132 Z" fill="#ff3000"/>
 <path d="M94.8,132 A17.6,17.6 0 0 0 130,132 Z" fill="#d00000"/>
 <path d="M90.8,103.3 H134 V132 H128.6 A16.2,16.6 0 0 1 96.2,132 H90.8 Z" fill="#1b1a7c"/>
 <path d="M78,103.6 H147" stroke="#b04030" stroke-width="0.8" fill="none"/>
 <path d="M91,103.3 Q95.5,118 91,132 A21.4,20.6 0 0 0 133.8,132 Q129.5,118 134,103.3" stroke="#8a1010" stroke-width="0.7" fill="none"/>
 <path d="M65.3,148.5 C85,156 95,163.2 112.4,163.2 C130,163.2 140,156 159.2,148.5" stroke="#d8883a" stroke-width="0.9" fill="none"/>
 <rect x="105.6" y="140.1" width="13.1" height="13.1" fill="none" stroke="#fff" stroke-width="0.9" stroke-dasharray="1.8,1.2"/>
 <rect x="125.5" y="122.5" width="13.1" height="13.6" fill="none" stroke="#2030ff" stroke-width="0.9" stroke-dasharray="1.8,1.2"/>
 <text x="103.2" y="171.4" font-size="8" fill="#fff" font-style="italic">E<tspan font-size="5" dy="1.6" font-style="normal">cone</tspan></text>
</g>
<path d="M138.6,136.1 L152,145.8" stroke="#1a1af0" stroke-width="1"/>
<g clip-path="url(#a2clip)">
 <rect x="176.2" y="104.1" width="94.7" height="77.3" fill="url(#a1bg)"/>
 <ellipse cx="223.6" cy="136" rx="48" ry="46" fill="url(#a1glow)"/>
 <ellipse cx="194" cy="123" rx="8" ry="10" fill="url(#vglow)"/>
 <ellipse cx="253" cy="123" rx="8" ry="10" fill="url(#vglow)"/>
 <circle cx="202" cy="131.8" r="1.6" fill="#ff3000"/>
 <circle cx="245" cy="131.8" r="1.6" fill="#ff3000"/>
 <path d="M203.6,132.2 A20,22 0 0 0 243.6,132.2 Z" fill="#70f0b0" opacity="0.7"/>
 <path d="M205.4,132.2 A18.2,20.2 0 0 0 241.8,132.2 Z" fill="#e8f030"/>
 <path d="M206.2,132.2 A17.4,19.4 0 0 0 241,132.2 Z" fill="#ffa000"/>
 <path d="M206.8,132.2 A16.8,18.8 0 0 0 240.4,132.2 Z" fill="#ff2000"/>
 <path d="M202,104.1 H245.2 V131.8 H240.2 A16.6,17.6 0 0 1 207,131.8 H202 Z" fill="#1b1a7c"/>
 <path d="M176.2,113.8 C188,116 193,125 201,134 C208,146 215,152.5 223.6,152.5 C232,152.5 239,146 246,134 C254,125 259,116 270.9,113.8" stroke="#8a1010" stroke-width="0.8" fill="none"/>
 <path d="M176.2,153.7 C195,160 205,165 223.6,165 C242,165 252,160 270.9,153.7" stroke="#d8883a" stroke-width="0.9" fill="none"/>
 <rect x="216.7" y="142.3" width="13.5" height="13.1" fill="none" stroke="#fff" stroke-width="0.9" stroke-dasharray="1.8,1.2"/>
 <rect x="194.4" y="123.3" width="13.3" height="13.3" fill="none" stroke="#2030ff" stroke-width="0.9" stroke-dasharray="1.8,1.2"/>
 <text x="218" y="166.6" font-size="8" fill="#fff" font-style="italic">E<tspan font-size="5" dy="1.6" font-style="normal">cone</tspan></text>
</g>
<path d="M194.4,136.4 L180.6,146.8" stroke="#1a1af0" stroke-width="1"/>
<text x="163.2" y="153.5" font-size="8" fill="#2a2af0" font-style="italic">E<tspan font-size="4.7" dy="2.2" font-style="normal">nozzle</tspan></text>
<g font-size="8.6"><text x="79" y="195" font-style="italic">σ</text><text x="84.1" y="197.9" font-size="6.1" font-style="italic">nozzle</text><text x="103.3" y="195">=</text><text x="110.6" y="195">10</text><text x="120.6" y="190.8" font-size="6.2">−14</text><text x="133.2" y="195">S/m</text></g>
<g font-size="8.6"><text x="197.6" y="195" font-style="italic">σ</text><text x="202.7" y="197.9" font-size="6.1" font-style="italic">nozzle</text><text x="221.6" y="195">=</text><text x="228.6" y="195">1</text><text x="236.9" y="195">S/m</text></g>

<polyline points="54.59,13.55 70.88,68.43 87.17,88.23 103.46,89.97 119.75,90.28 136.04,90.28 152.33,90.28 168.62,90.28 184.91,90.28 201.20,90.28 217.49,90.28 233.78,90.28 250.07,90.28 266.36,90.28 282.65,90.28" fill="none" stroke="#000" stroke-width="1.4" stroke-linejoin="round"/>
<rect x="52.09" y="11.05" width="5" height="5" fill="#000"/>
<rect x="68.38" y="65.93" width="5" height="5" fill="#000"/>
<rect x="84.67" y="85.73" width="5" height="5" fill="#000"/>
<rect x="100.96" y="87.47" width="5" height="5" fill="#000"/>
<rect x="117.25" y="87.78" width="5" height="5" fill="#000"/>
<rect x="133.54" y="87.78" width="5" height="5" fill="#000"/>
<rect x="149.83" y="87.78" width="5" height="5" fill="#000"/>
<rect x="166.12" y="87.78" width="5" height="5" fill="#000"/>
<rect x="182.41" y="87.78" width="5" height="5" fill="#000"/>
<rect x="198.70" y="87.78" width="5" height="5" fill="#000"/>
<rect x="214.99" y="87.78" width="5" height="5" fill="#000"/>
<rect x="231.28" y="87.78" width="5" height="5" fill="#000"/>
<rect x="247.57" y="87.78" width="5" height="5" fill="#000"/>
<rect x="263.86" y="87.78" width="5" height="5" fill="#000"/>
<rect x="280.15" y="87.78" width="5" height="5" fill="#000"/>
<polyline points="54.59,64.16 70.88,75.78 87.17,79.88 103.46,80.57 119.75,80.57 136.04,80.57 152.33,80.57 168.62,80.57 184.91,80.57 201.20,80.57 217.49,80.57 233.78,80.57 250.07,80.57 266.36,80.57 282.65,80.57" fill="none" stroke="#f00" stroke-width="1.45" stroke-linejoin="round"/>
<rect x="52.09" y="61.66" width="5" height="5" fill="#f00"/>
<rect x="68.38" y="73.28" width="5" height="5" fill="#f00"/>
<rect x="84.67" y="77.38" width="5" height="5" fill="#f00"/>
<rect x="100.96" y="78.07" width="5" height="5" fill="#f00"/>
<rect x="117.25" y="78.07" width="5" height="5" fill="#f00"/>
<rect x="133.54" y="78.07" width="5" height="5" fill="#f00"/>
<rect x="149.83" y="78.07" width="5" height="5" fill="#f00"/>
<rect x="166.12" y="78.07" width="5" height="5" fill="#f00"/>
<rect x="182.41" y="78.07" width="5" height="5" fill="#f00"/>
<rect x="198.70" y="78.07" width="5" height="5" fill="#f00"/>
<rect x="214.99" y="78.07" width="5" height="5" fill="#f00"/>
<rect x="231.28" y="78.07" width="5" height="5" fill="#f00"/>
<rect x="247.57" y="78.07" width="5" height="5" fill="#f00"/>
<rect x="263.86" y="78.07" width="5" height="5" fill="#f00"/>
<rect x="280.15" y="78.07" width="5" height="5" fill="#f00"/>
<text x="366.10" y="11.50" font-size="14" text-anchor="start" fill="#000" font-weight="bold">b</text>
<text x="411.00" y="217.58" font-size="10.0" text-anchor="end" fill="#000" >0</text>
<line x1="416.70" y1="193.54" x2="419.70" y2="193.54" stroke="#000" stroke-width="1.2" />
<line x1="676.40" y1="193.54" x2="673.40" y2="193.54" stroke="#000" stroke-width="1.2" />
<text x="411.00" y="197.09" font-size="10.0" text-anchor="end" fill="#000" >1</text>
<line x1="416.70" y1="173.08" x2="419.70" y2="173.08" stroke="#000" stroke-width="1.2" />
<line x1="676.40" y1="173.08" x2="673.40" y2="173.08" stroke="#000" stroke-width="1.2" />
<text x="411.00" y="176.60" font-size="10.0" text-anchor="end" fill="#000" >2</text>
<line x1="416.70" y1="152.62" x2="419.70" y2="152.62" stroke="#000" stroke-width="1.2" />
<line x1="676.40" y1="152.62" x2="673.40" y2="152.62" stroke="#000" stroke-width="1.2" />
<text x="411.00" y="156.11" font-size="10.0" text-anchor="end" fill="#000" >3</text>
<line x1="416.70" y1="132.16" x2="419.70" y2="132.16" stroke="#000" stroke-width="1.2" />
<line x1="676.40" y1="132.16" x2="673.40" y2="132.16" stroke="#000" stroke-width="1.2" />
<text x="411.00" y="135.62" font-size="10.0" text-anchor="end" fill="#000" >4</text>
<line x1="416.70" y1="111.70" x2="419.70" y2="111.70" stroke="#000" stroke-width="1.2" />
<line x1="676.40" y1="111.70" x2="673.40" y2="111.70" stroke="#000" stroke-width="1.2" />
<text x="411.00" y="115.13" font-size="10.0" text-anchor="end" fill="#000" >5</text>
<line x1="416.70" y1="91.24" x2="419.70" y2="91.24" stroke="#000" stroke-width="1.2" />
<line x1="676.40" y1="91.24" x2="673.40" y2="91.24" stroke="#000" stroke-width="1.2" />
<text x="411.00" y="94.64" font-size="10.0" text-anchor="end" fill="#000" >6</text>
<line x1="416.70" y1="70.78" x2="419.70" y2="70.78" stroke="#000" stroke-width="1.2" />
<line x1="676.40" y1="70.78" x2="673.40" y2="70.78" stroke="#000" stroke-width="1.2" />
<text x="411.00" y="74.15" font-size="10.0" text-anchor="end" fill="#000" >7</text>
<line x1="416.70" y1="50.32" x2="419.70" y2="50.32" stroke="#000" stroke-width="1.2" />
<line x1="676.40" y1="50.32" x2="673.40" y2="50.32" stroke="#000" stroke-width="1.2" />
<text x="411.00" y="53.66" font-size="10.0" text-anchor="end" fill="#000" >8</text>
<line x1="416.70" y1="29.86" x2="419.70" y2="29.86" stroke="#000" stroke-width="1.2" />
<line x1="676.40" y1="29.86" x2="673.40" y2="29.86" stroke="#000" stroke-width="1.2" />
<text x="411.00" y="33.17" font-size="10.0" text-anchor="end" fill="#000" >9</text>
<text x="411.00" y="12.68" font-size="10.0" text-anchor="end" fill="#000" >10</text>
<text x="416.70" y="228.70" font-size="10.0" text-anchor="middle" fill="#000" >1</text>
<line x1="449.16" y1="214.00" x2="449.16" y2="211.00" stroke="#000" stroke-width="1.2" />
<line x1="449.16" y1="9.40" x2="449.16" y2="12.40" stroke="#000" stroke-width="1.2" />
<text x="449.16" y="228.70" font-size="10.0" text-anchor="middle" fill="#000" >2</text>
<line x1="481.62" y1="214.00" x2="481.62" y2="211.00" stroke="#000" stroke-width="1.2" />
<line x1="481.62" y1="9.40" x2="481.62" y2="12.40" stroke="#000" stroke-width="1.2" />
<text x="481.62" y="228.70" font-size="10.0" text-anchor="middle" fill="#000" >3</text>
<line x1="514.09" y1="214.00" x2="514.09" y2="211.00" stroke="#000" stroke-width="1.2" />
<line x1="514.09" y1="9.40" x2="514.09" y2="12.40" stroke="#000" stroke-width="1.2" />
<text x="514.09" y="228.70" font-size="10.0" text-anchor="middle" fill="#000" >4</text>
<line x1="546.55" y1="214.00" x2="546.55" y2="211.00" stroke="#000" stroke-width="1.2" />
<line x1="546.55" y1="9.40" x2="546.55" y2="12.40" stroke="#000" stroke-width="1.2" />
<text x="546.55" y="228.70" font-size="10.0" text-anchor="middle" fill="#000" >5</text>
<line x1="579.01" y1="214.00" x2="579.01" y2="211.00" stroke="#000" stroke-width="1.2" />
<line x1="579.01" y1="9.40" x2="579.01" y2="12.40" stroke="#000" stroke-width="1.2" />
<text x="579.01" y="228.70" font-size="10.0" text-anchor="middle" fill="#000" >6</text>
<line x1="611.47" y1="214.00" x2="611.47" y2="211.00" stroke="#000" stroke-width="1.2" />
<line x1="611.47" y1="9.40" x2="611.47" y2="12.40" stroke="#000" stroke-width="1.2" />
<text x="611.47" y="228.70" font-size="10.0" text-anchor="middle" fill="#000" >7</text>
<line x1="643.94" y1="214.00" x2="643.94" y2="211.00" stroke="#000" stroke-width="1.2" />
<line x1="643.94" y1="9.40" x2="643.94" y2="12.40" stroke="#000" stroke-width="1.2" />
<text x="643.94" y="228.70" font-size="10.0" text-anchor="middle" fill="#000" >8</text>
<text x="676.40" y="228.70" font-size="10.0" text-anchor="middle" fill="#000" >9</text>
<text x="536.4" y="245.0" font-size="9.8">Δ/<tspan font-style="italic">d</tspan><tspan font-size="7.2" font-style="italic" dy="3">N</tspan></text>
<text transform="translate(391.0,113.8) rotate(-90)" font-size="10.5" text-anchor="middle"><tspan font-style="italic">θ</tspan> (°)</text>
<polyline points="449.16,113.95 481.62,174.51 514.09,204.38 546.55,211.54 579.01,210.93 611.47,212.57 643.94,213.59" fill="none" stroke="#000" stroke-width="1.3" stroke-linejoin="round"/>
<rect x="446.86" y="111.65" width="4.6" height="4.6" fill="#000"/>
<rect x="479.32" y="172.21" width="4.6" height="4.6" fill="#000"/>
<rect x="511.79" y="202.08" width="4.6" height="4.6" fill="#000"/>
<rect x="544.25" y="209.24" width="4.6" height="4.6" fill="#000"/>
<rect x="576.71" y="208.63" width="4.6" height="4.6" fill="#000"/>
<rect x="609.17" y="210.27" width="4.6" height="4.6" fill="#000"/>
<rect x="641.64" y="211.29" width="4.6" height="4.6" fill="#000"/>
<polyline points="449.16,72.42 481.62,136.87 514.09,176.56 546.55,198.86 579.01,204.79 611.47,211.54 643.94,213.18" fill="none" stroke="#f00" stroke-width="1.3" stroke-linejoin="round"/>
<rect x="446.86" y="70.12" width="4.6" height="4.6" fill="#f00"/>
<rect x="479.32" y="134.57" width="4.6" height="4.6" fill="#f00"/>
<rect x="511.79" y="174.26" width="4.6" height="4.6" fill="#f00"/>
<rect x="544.25" y="196.56" width="4.6" height="4.6" fill="#f00"/>
<rect x="576.71" y="202.49" width="4.6" height="4.6" fill="#f00"/>
<rect x="609.17" y="209.24" width="4.6" height="4.6" fill="#f00"/>
<rect x="641.64" y="210.88" width="4.6" height="4.6" fill="#f00"/>
<polyline points="449.16,51.14 481.62,119.47 514.09,162.24 546.55,186.38 579.01,197.84 611.47,205.61 643.94,212.77" fill="none" stroke="#00f" stroke-width="1.3" stroke-linejoin="round"/>
<rect x="446.86" y="48.84" width="4.6" height="4.6" fill="#00f"/>
<rect x="479.32" y="117.17" width="4.6" height="4.6" fill="#00f"/>
<rect x="511.79" y="159.94" width="4.6" height="4.6" fill="#00f"/>
<rect x="544.25" y="184.08" width="4.6" height="4.6" fill="#00f"/>
<rect x="576.71" y="195.54" width="4.6" height="4.6" fill="#00f"/>
<rect x="609.17" y="203.31" width="4.6" height="4.6" fill="#00f"/>
<rect x="641.64" y="210.47" width="4.6" height="4.6" fill="#00f"/>
<polyline points="449.16,39.27 481.62,102.29 514.09,151.19 546.55,181.67 579.01,193.54 611.47,201.72 643.94,212.36" fill="none" stroke="#f0f" stroke-width="1.3" stroke-linejoin="round"/>
<rect x="446.86" y="36.97" width="4.6" height="4.6" fill="#f0f"/>
<rect x="479.32" y="99.99" width="4.6" height="4.6" fill="#f0f"/>
<rect x="511.79" y="148.89" width="4.6" height="4.6" fill="#f0f"/>
<rect x="544.25" y="179.37" width="4.6" height="4.6" fill="#f0f"/>
<rect x="576.71" y="191.24" width="4.6" height="4.6" fill="#f0f"/>
<rect x="609.17" y="199.42" width="4.6" height="4.6" fill="#f0f"/>
<rect x="641.64" y="210.06" width="4.6" height="4.6" fill="#f0f"/>
<rect x="416.7" y="182.7" width="259.7" height="31.30000000000001" fill="rgb(239,197,32)" fill-opacity="0.314"/>
<line x1="416.70" y1="9.40" x2="676.40" y2="9.40" stroke="#262626" stroke-width="1.15" />
<line x1="416.70" y1="214.00" x2="676.40" y2="214.00" stroke="#262626" stroke-width="1.15" />
<line x1="416.70" y1="8.83" x2="416.70" y2="214.57" stroke="#262626" stroke-width="1.15" />
<line x1="676.40" y1="8.83" x2="676.40" y2="214.57" stroke="#262626" stroke-width="1.15" />
<rect x="475.1" y="13" width="40.6" height="68.6" fill="#1b1a7c"/>
<rect x="484.3" y="13" width="5.4" height="13.9" fill="#fff"/>
<rect x="501" y="13" width="5.7" height="13.9" fill="#fff"/>
<rect x="489.7" y="13" width="11.3" height="14.2" fill="#7a0000"/>
<path d="M484.3,26.8 C487.5,29 489.2,36 489.4,46 C489.5,58 488.6,66 488.2,75 C488.9,66 490.6,56 492.6,47 C495,37 499.5,30 506.9,26.8 Z" fill="#2aa8ff"/>
<path d="M485.4,26.8 C488.2,29.5 489.8,36 490,45 C490.1,55 489.2,62 488.8,69 C490,61 491.5,53 493,46 C495.5,37 499.5,30.5 505.8,26.8 Z" fill="#60f0a0"/>
<path d="M486.6,26.8 C489,30 490.4,36 490.6,44 C490.7,52 490,58 489.6,63 C490.8,56 492,50 493.3,45 C495.5,37 499,31 504.6,26.8 Z" fill="#f8f000"/>
<path d="M487.8,26.8 C489.8,30 491,36 491.2,43 C491.3,49 490.8,53 490.6,56 C491.6,51 492.6,47 493.6,43.5 C495.5,37 498.5,31 503.2,26.8 Z" fill="#ff2000"/>
<path d="M489.3,26.8 C490.8,30 491.8,36 491.9,41 C492,45 491.8,48 491.6,50 C492.4,46 493.2,43 494,41 C495.6,36 497.8,31 501.6,26.8 Z" fill="#8a0000"/>
<path d="M475.1,44.4 Q482,50 490.1,57.3 Q500,52 515.7,50.6" stroke="#7a2850" stroke-width="0.6" stroke-opacity="0.7" fill="none"/>
<path d="M475.1,73.1 Q480,76 486,78.5 Q500,77 515.7,76.2" stroke="#9a5040" stroke-width="0.6" stroke-opacity="0.7" fill="none"/>
<rect x="626" y="122.1" width="40.9" height="68.4" fill="#1b1a7c"/>
<rect x="635.1" y="122.1" width="5.8" height="13" fill="#fff"/>
<rect x="652.2" y="122.1" width="6.2" height="13" fill="#fff"/>
<rect x="640.9" y="122.1" width="11.3" height="13.3" fill="#7a0000"/>
<path d="M635.1,135 C639.5,137 643.3,143 644.4,152 C645.3,162 645.8,176 646.5,189.5 C647.2,176 647.7,162 648.6,152 C649.7,143 653.5,137 658.4,135 Z" fill="#2aa8ff"/>
<path d="M636.3,135 C640.2,137.5 643.8,143 644.9,152 C645.6,161 646,172 646.5,182 C647,172 647.4,161 648.1,152 C649.2,143 652.8,137.5 657.2,135 Z" fill="#60f0a0"/>
<path d="M637.6,135 C641,138 644.3,143 645.3,151 C645.9,159 646.2,167 646.5,174 C646.8,167 647.1,159 647.7,151 C648.7,143 652,138 655.9,135 Z" fill="#f8f000"/>
<path d="M639.2,135 C642,138 644.8,143 645.7,150 C646.1,156 646.3,161 646.5,166 C646.7,161 646.9,156 647.3,150 C648.2,143 651,138 654.3,135 Z" fill="#ff2000"/>
<path d="M640.9,135 C643,138 645.3,143 645.9,148 C646.2,152 646.4,155 646.5,158 C646.6,155 646.8,152 647.1,148 C647.7,143 650,138 652.2,135 Z" fill="#8a0000"/>
<path d="M626,147.3 L646.5,165.4 L666.9,147.3" stroke="#7a2850" stroke-width="0.6" stroke-opacity="0.7" fill="none"/>
<path d="M626,178.2 L646.5,188.6 L666.9,178.2" stroke="#9a5040" stroke-width="0.6" stroke-opacity="0.7" fill="none"/>
<circle cx="448.7" cy="38.1" r="6" fill="none" stroke="#ff00ff" stroke-width="0.9" stroke-dasharray="1.6,1.2"/>
<path d="M454.3,36 L475.6,30.8" stroke="#ff00ff" stroke-width="0.9" stroke-dasharray="2.2,1.6"/>
<circle cx="643.7" cy="212.4" r="5.8" fill="none" stroke="#ff00ff" stroke-width="0.9" stroke-dasharray="1.6,1.2"/>
<path d="M646.4,190.6 L644.4,206.6" stroke="#ff00ff" stroke-width="0.9" stroke-dasharray="2.2,1.6"/>
<line x1="587.00" y1="27.00" x2="616.00" y2="27.00" stroke="#000" stroke-width="1.3" />
<rect x="597.10" y="22.70" width="8.6" height="8.6" fill="#000"/>
<text x="621.9" y="29.90" font-size="9.2" fill="#000"><tspan font-style="italic">H</tspan>/<tspan font-style="italic">d</tspan><tspan font-size="6.0" font-style="italic" dy="2.4">N</tspan><tspan dy="-2.4" dx="0.9">= 2</tspan></text>
<line x1="587.00" y1="50.50" x2="616.00" y2="50.50" stroke="#f00" stroke-width="1.3" />
<rect x="597.10" y="46.20" width="8.6" height="8.6" fill="#f00"/>
<text x="621.9" y="53.40" font-size="9.2" fill="#f00"><tspan font-style="italic">H</tspan>/<tspan font-style="italic">d</tspan><tspan font-size="6.0" font-style="italic" dy="2.4">N</tspan><tspan dy="-2.4" dx="0.9">= 3</tspan></text>
<line x1="587.00" y1="74.20" x2="616.00" y2="74.20" stroke="#00f" stroke-width="1.3" />
<rect x="597.10" y="69.90" width="8.6" height="8.6" fill="#00f"/>
<text x="621.9" y="77.10" font-size="9.2" fill="#00f"><tspan font-style="italic">H</tspan>/<tspan font-style="italic">d</tspan><tspan font-size="6.0" font-style="italic" dy="2.4">N</tspan><tspan dy="-2.4" dx="0.9">= 4</tspan></text>
<line x1="587.00" y1="97.50" x2="616.00" y2="97.50" stroke="#f0f" stroke-width="1.3" />
<rect x="597.10" y="93.20" width="8.6" height="8.6" fill="#f0f"/>
<text x="621.9" y="100.40" font-size="9.2" fill="#f0f"><tspan font-style="italic">H</tspan>/<tspan font-style="italic">d</tspan><tspan font-size="6.0" font-style="italic" dy="2.4">N</tspan><tspan dy="-2.4" dx="0.9">= 5</tspan></text>
<text x="0.90" y="277.10" font-size="14" text-anchor="start" fill="#000" font-weight="bold">c</text>
<text x="32.40" y="485.78" font-size="10.0" text-anchor="end" fill="#000" >0</text>
<line x1="37.40" y1="461.70" x2="40.60" y2="461.70" stroke="#000" stroke-width="1.2" />
<text x="32.40" y="465.27" font-size="10.0" text-anchor="end" fill="#000" >2</text>
<line x1="37.40" y1="441.10" x2="40.60" y2="441.10" stroke="#000" stroke-width="1.2" />
<text x="32.40" y="444.76" font-size="10.0" text-anchor="end" fill="#000" >4</text>
<line x1="37.40" y1="420.50" x2="40.60" y2="420.50" stroke="#000" stroke-width="1.2" />
<text x="32.40" y="424.25" font-size="10.0" text-anchor="end" fill="#000" >6</text>
<line x1="37.40" y1="399.90" x2="40.60" y2="399.90" stroke="#000" stroke-width="1.2" />
<text x="32.40" y="403.74" font-size="10.0" text-anchor="end" fill="#000" >8</text>
<line x1="37.40" y1="379.30" x2="40.60" y2="379.30" stroke="#000" stroke-width="1.2" />
<text x="32.40" y="383.23" font-size="10.0" text-anchor="end" fill="#000" >10</text>
<line x1="37.40" y1="358.70" x2="40.60" y2="358.70" stroke="#000" stroke-width="1.2" />
<text x="32.40" y="362.72" font-size="10.0" text-anchor="end" fill="#000" >12</text>
<line x1="37.40" y1="338.10" x2="40.60" y2="338.10" stroke="#000" stroke-width="1.2" />
<text x="32.40" y="342.21" font-size="10.0" text-anchor="end" fill="#000" >14</text>
<line x1="37.40" y1="317.50" x2="40.60" y2="317.50" stroke="#000" stroke-width="1.2" />
<text x="32.40" y="321.70" font-size="10.0" text-anchor="end" fill="#000" >16</text>
<line x1="37.40" y1="296.90" x2="40.60" y2="296.90" stroke="#000" stroke-width="1.2" />
<text x="32.40" y="301.19" font-size="10.0" text-anchor="end" fill="#000" >18</text>
<text x="32.40" y="280.68" font-size="10.0" text-anchor="end" fill="#000" >20</text>
<line x1="299.30" y1="482.30" x2="295.90" y2="482.30" stroke="#f00" stroke-width="1.2" />
<text x="304.80" y="483.98" font-size="10.0" text-anchor="start" fill="#f00" >0.50</text>
<line x1="299.30" y1="461.70" x2="295.90" y2="461.70" stroke="#f00" stroke-width="1.2" />
<text x="304.80" y="463.63" font-size="10.0" text-anchor="start" fill="#f00" >0.55</text>
<line x1="299.30" y1="441.10" x2="295.90" y2="441.10" stroke="#f00" stroke-width="1.2" />
<text x="304.80" y="443.28" font-size="10.0" text-anchor="start" fill="#f00" >0.60</text>
<line x1="299.30" y1="420.50" x2="295.90" y2="420.50" stroke="#f00" stroke-width="1.2" />
<text x="304.80" y="422.93" font-size="10.0" text-anchor="start" fill="#f00" >0.65</text>
<line x1="299.30" y1="399.90" x2="295.90" y2="399.90" stroke="#f00" stroke-width="1.2" />
<text x="304.80" y="402.58" font-size="10.0" text-anchor="start" fill="#f00" >0.70</text>
<line x1="299.30" y1="379.30" x2="295.90" y2="379.30" stroke="#f00" stroke-width="1.2" />
<text x="304.80" y="382.23" font-size="10.0" text-anchor="start" fill="#f00" >0.75</text>
<line x1="299.30" y1="358.70" x2="295.90" y2="358.70" stroke="#f00" stroke-width="1.2" />
<text x="304.80" y="361.88" font-size="10.0" text-anchor="start" fill="#f00" >0.80</text>
<line x1="299.30" y1="338.10" x2="295.90" y2="338.10" stroke="#f00" stroke-width="1.2" />
<text x="304.80" y="341.53" font-size="10.0" text-anchor="start" fill="#f00" >0.85</text>
<line x1="299.30" y1="317.50" x2="295.90" y2="317.50" stroke="#f00" stroke-width="1.2" />
<text x="304.80" y="321.18" font-size="10.0" text-anchor="start" fill="#f00" >0.90</text>
<line x1="299.30" y1="296.90" x2="295.90" y2="296.90" stroke="#f00" stroke-width="1.2" />
<text x="304.80" y="300.83" font-size="10.0" text-anchor="start" fill="#f00" >0.95</text>
<line x1="299.30" y1="276.30" x2="295.90" y2="276.30" stroke="#f00" stroke-width="1.2" />
<text x="304.80" y="280.48" font-size="10.0" text-anchor="start" fill="#f00" >1.00</text>
<text x="37.40" y="497.00" font-size="10.0" text-anchor="middle" fill="#000" >0</text>
<line x1="70.14" y1="482.30" x2="70.14" y2="479.30" stroke="#000" stroke-width="1.2" />
<line x1="70.14" y1="276.30" x2="70.14" y2="279.30" stroke="#000" stroke-width="1.2" />
<text x="70.14" y="497.00" font-size="10.0" text-anchor="middle" fill="#000" >1</text>
<line x1="102.88" y1="482.30" x2="102.88" y2="479.30" stroke="#000" stroke-width="1.2" />
<line x1="102.88" y1="276.30" x2="102.88" y2="279.30" stroke="#000" stroke-width="1.2" />
<text x="102.88" y="497.00" font-size="10.0" text-anchor="middle" fill="#000" >2</text>
<line x1="135.61" y1="482.30" x2="135.61" y2="479.30" stroke="#000" stroke-width="1.2" />
<line x1="135.61" y1="276.30" x2="135.61" y2="279.30" stroke="#000" stroke-width="1.2" />
<text x="135.61" y="497.00" font-size="10.0" text-anchor="middle" fill="#000" >3</text>
<line x1="168.35" y1="482.30" x2="168.35" y2="479.30" stroke="#000" stroke-width="1.2" />
<line x1="168.35" y1="276.30" x2="168.35" y2="279.30" stroke="#000" stroke-width="1.2" />
<text x="168.35" y="497.00" font-size="10.0" text-anchor="middle" fill="#000" >4</text>
<line x1="201.09" y1="482.30" x2="201.09" y2="479.30" stroke="#000" stroke-width="1.2" />
<line x1="201.09" y1="276.30" x2="201.09" y2="279.30" stroke="#000" stroke-width="1.2" />
<text x="201.09" y="497.00" font-size="10.0" text-anchor="middle" fill="#000" >5</text>
<line x1="233.83" y1="482.30" x2="233.83" y2="479.30" stroke="#000" stroke-width="1.2" />
<line x1="233.83" y1="276.30" x2="233.83" y2="279.30" stroke="#000" stroke-width="1.2" />
<text x="233.83" y="497.00" font-size="10.0" text-anchor="middle" fill="#000" >6</text>
<line x1="266.56" y1="482.30" x2="266.56" y2="479.30" stroke="#000" stroke-width="1.2" />
<line x1="266.56" y1="276.30" x2="266.56" y2="279.30" stroke="#000" stroke-width="1.2" />
<text x="266.56" y="497.00" font-size="10.0" text-anchor="middle" fill="#000" >7</text>
<text x="299.30" y="497.00" font-size="10.0" text-anchor="middle" fill="#000" >8</text>
<text x="160.4" y="512.6" font-size="10.2"><tspan font-style="italic">L</tspan>/<tspan font-style="italic">d</tspan><tspan font-size="7.2" font-style="italic" dy="3">N</tspan></text>
<text transform="translate(10.3,380.6) rotate(-90)" font-size="10.5" text-anchor="middle"><tspan font-style="italic">θ</tspan> (°)</text>
<text transform="translate(336.0,361.0) rotate(90)" font-size="10.4" fill="#f00"><tspan font-style="italic">E</tspan><tspan font-size="7" dy="3">cone</tspan><tspan dy="-3" dx="0.6">/</tspan><tspan font-style="italic" dx="1.8">E</tspan><tspan font-size="7.4" dy="-2.6" dx="0.6">*</tspan></text>
<polyline points="53.77,339.75 70.14,325.74 102.88,315.85 135.61,313.38 168.35,312.56 201.09,312.14 233.83,311.32 266.56,310.91" fill="none" stroke="#f00" stroke-width="1.5" stroke-linejoin="round" stroke-dasharray="4,3"/>
<rect x="51.82" y="337.80" width="3.90" height="3.90" fill="none" stroke="#f00" stroke-width="1.3"/>
<rect x="68.19" y="323.79" width="3.90" height="3.90" fill="none" stroke="#f00" stroke-width="1.3"/>
<rect x="100.93" y="313.90" width="3.90" height="3.90" fill="none" stroke="#f00" stroke-width="1.3"/>
<rect x="133.66" y="311.43" width="3.90" height="3.90" fill="none" stroke="#f00" stroke-width="1.3"/>
<rect x="166.40" y="310.61" width="3.90" height="3.90" fill="none" stroke="#f00" stroke-width="1.3"/>
<rect x="199.14" y="310.19" width="3.90" height="3.90" fill="none" stroke="#f00" stroke-width="1.3"/>
<rect x="231.88" y="309.37" width="3.90" height="3.90" fill="none" stroke="#f00" stroke-width="1.3"/>
<rect x="264.61" y="308.96" width="3.90" height="3.90" fill="none" stroke="#f00" stroke-width="1.3"/>
<polyline points="53.77,359.94 70.14,356.64 102.88,354.99 135.61,353.76 168.35,352.93 201.09,352.11 233.83,351.28 266.56,350.87" fill="none" stroke="#f00" stroke-width="1.6" stroke-linejoin="round"/>
<rect x="51.07" y="357.24" width="5.4" height="5.4" fill="#f00"/>
<rect x="67.44" y="353.94" width="5.4" height="5.4" fill="#f00"/>
<rect x="100.17" y="352.29" width="5.4" height="5.4" fill="#f00"/>
<rect x="132.91" y="351.06" width="5.4" height="5.4" fill="#f00"/>
<rect x="165.65" y="350.23" width="5.4" height="5.4" fill="#f00"/>
<rect x="198.39" y="349.41" width="5.4" height="5.4" fill="#f00"/>
<rect x="231.13" y="348.58" width="5.4" height="5.4" fill="#f00"/>
<rect x="263.86" y="348.17" width="5.4" height="5.4" fill="#f00"/>
<polyline points="53.77,443.16 70.14,426.47 102.88,402.27 135.61,385.17 168.35,374.46 201.09,369.82 233.83,363.64 266.56,360.45" fill="none" stroke="#000" stroke-width="1.7" stroke-linejoin="round"/>
<rect x="51.07" y="440.46" width="5.4" height="5.4" fill="#000"/>
<rect x="67.44" y="423.77" width="5.4" height="5.4" fill="#000"/>
<rect x="100.17" y="399.57" width="5.4" height="5.4" fill="#000"/>
<rect x="132.91" y="382.47" width="5.4" height="5.4" fill="#000"/>
<rect x="165.65" y="371.76" width="5.4" height="5.4" fill="#000"/>
<rect x="198.39" y="367.12" width="5.4" height="5.4" fill="#000"/>
<rect x="231.13" y="360.94" width="5.4" height="5.4" fill="#000"/>
<rect x="263.86" y="357.75" width="5.4" height="5.4" fill="#000"/>
<polyline points="53.77,477.15 70.14,473.85 102.88,463.76 135.61,452.43 168.35,441.10 201.09,437.39 233.83,431.21 266.56,425.65" fill="none" stroke="#000" stroke-width="1.5" stroke-linejoin="round" stroke-dasharray="4,3"/>
<rect x="51.82" y="475.20" width="3.90" height="3.90" fill="none" stroke="#000" stroke-width="1.3"/>
<rect x="68.19" y="471.90" width="3.90" height="3.90" fill="none" stroke="#000" stroke-width="1.3"/>
<rect x="100.93" y="461.81" width="3.90" height="3.90" fill="none" stroke="#000" stroke-width="1.3"/>
<rect x="133.66" y="450.48" width="3.90" height="3.90" fill="none" stroke="#000" stroke-width="1.3"/>
<rect x="166.40" y="439.15" width="3.90" height="3.90" fill="none" stroke="#000" stroke-width="1.3"/>
<rect x="199.14" y="435.44" width="3.90" height="3.90" fill="none" stroke="#000" stroke-width="1.3"/>
<rect x="231.88" y="429.26" width="3.90" height="3.90" fill="none" stroke="#000" stroke-width="1.3"/>
<rect x="264.61" y="423.70" width="3.90" height="3.90" fill="none" stroke="#000" stroke-width="1.3"/>
<line x1="37.40" y1="276.30" x2="299.30" y2="276.30" stroke="#000" stroke-width="1.3" />
<line x1="37.40" y1="482.30" x2="299.30" y2="482.30" stroke="#000" stroke-width="1.3" />
<line x1="37.40" y1="275.65" x2="37.40" y2="482.95" stroke="#000" stroke-width="1.3" />
<line x1="299.30" y1="275.65" x2="299.30" y2="482.95" stroke="#f00" stroke-width="1.5" />
<line x1="168.30" y1="295.20" x2="209.20" y2="295.20" stroke="#f00" stroke-width="1.2" stroke-dasharray="3.2,2.6"/>
<rect x="182.40" y="291.00" width="8.4" height="8.4" fill="none" stroke="#f00" stroke-width="1.3"/>
<text x="211.4" y="297.60" font-size="9.2" fill="#f00">Δ/<tspan font-style="italic">d</tspan><tspan font-size="6.8" font-style="italic" dy="2.6">N</tspan><tspan dy="-2.6" dx="1.2">= 5</tspan></text>
<line x1="170.30" y1="335.20" x2="207.80" y2="335.20" stroke="#f00" stroke-width="1.2" />
<rect x="184.00" y="330.60" width="9.2" height="9.2" fill="#f00"/>
<text x="211.4" y="337.10" font-size="9.2" fill="#f00">Δ/<tspan font-style="italic">d</tspan><tspan font-size="6.8" font-style="italic" dy="2.6">N</tspan><tspan dy="-2.6" dx="1.2">= 2.5</tspan></text>
<line x1="170.30" y1="386.00" x2="207.80" y2="386.00" stroke="#000" stroke-width="1.2" />
<rect x="184.00" y="381.40" width="9.2" height="9.2" fill="#000"/>
<text x="212.6" y="388.70" font-size="9.2" fill="#000">Δ/<tspan font-style="italic">d</tspan><tspan font-size="6.8" font-style="italic" dy="2.6">N</tspan><tspan dy="-2.6" dx="1.2">= 2.5</tspan></text>
<line x1="172.00" y1="457.00" x2="209.70" y2="457.00" stroke="#000" stroke-width="1.2" stroke-dasharray="3.2,2.6"/>
<rect x="186.10" y="452.80" width="8.4" height="8.4" fill="none" stroke="#000" stroke-width="1.3"/>
<text x="212.6" y="459.60" font-size="9.2" fill="#000">Δ/<tspan font-style="italic">d</tspan><tspan font-size="6.8" font-style="italic" dy="2.6">N</tspan><tspan dy="-2.6" dx="1.2">= 5</tspan></text>
<text x="365.10" y="277.20" font-size="14" text-anchor="start" fill="#000" font-weight="bold">d</text>
<text x="410.50" y="483.98" font-size="10.0" text-anchor="end" fill="#000" >0.1</text>
<line x1="417.30" y1="447.18" x2="420.30" y2="447.18" stroke="#000" stroke-width="1.2" />
<line x1="679.70" y1="447.18" x2="676.70" y2="447.18" stroke="#000" stroke-width="1.2" />
<text x="410.50" y="449.83" font-size="10.0" text-anchor="end" fill="#000" >0.101</text>
<line x1="417.30" y1="412.67" x2="420.30" y2="412.67" stroke="#000" stroke-width="1.2" />
<line x1="679.70" y1="412.67" x2="676.70" y2="412.67" stroke="#000" stroke-width="1.2" />
<text x="410.50" y="415.68" font-size="10.0" text-anchor="end" fill="#000" >0.102</text>
<line x1="417.30" y1="378.15" x2="420.30" y2="378.15" stroke="#000" stroke-width="1.2" />
<line x1="679.70" y1="378.15" x2="676.70" y2="378.15" stroke="#000" stroke-width="1.2" />
<text x="410.50" y="381.53" font-size="10.0" text-anchor="end" fill="#000" >0.103</text>
<line x1="417.30" y1="343.63" x2="420.30" y2="343.63" stroke="#000" stroke-width="1.2" />
<line x1="679.70" y1="343.63" x2="676.70" y2="343.63" stroke="#000" stroke-width="1.2" />
<text x="410.50" y="347.38" font-size="10.0" text-anchor="end" fill="#000" >0.104</text>
<line x1="417.30" y1="309.12" x2="420.30" y2="309.12" stroke="#000" stroke-width="1.2" />
<line x1="679.70" y1="309.12" x2="676.70" y2="309.12" stroke="#000" stroke-width="1.2" />
<text x="410.50" y="313.23" font-size="10.0" text-anchor="end" fill="#000" >0.105</text>
<text x="410.50" y="279.08" font-size="10.0" text-anchor="end" fill="#000" >0.106</text>
<text x="417.30" y="496.20" font-size="10.0" text-anchor="middle" fill="#000" >0</text>
<line x1="454.79" y1="481.70" x2="454.79" y2="478.70" stroke="#000" stroke-width="1.2" />
<line x1="454.79" y1="274.60" x2="454.79" y2="277.60" stroke="#000" stroke-width="1.2" />
<text x="454.79" y="496.20" font-size="10.0" text-anchor="middle" fill="#000" >5</text>
<line x1="492.27" y1="481.70" x2="492.27" y2="478.70" stroke="#000" stroke-width="1.2" />
<line x1="492.27" y1="274.60" x2="492.27" y2="277.60" stroke="#000" stroke-width="1.2" />
<text x="492.27" y="496.20" font-size="10.0" text-anchor="middle" fill="#000" >10</text>
<line x1="529.76" y1="481.70" x2="529.76" y2="478.70" stroke="#000" stroke-width="1.2" />
<line x1="529.76" y1="274.60" x2="529.76" y2="277.60" stroke="#000" stroke-width="1.2" />
<text x="529.76" y="496.20" font-size="10.0" text-anchor="middle" fill="#000" >15</text>
<line x1="567.24" y1="481.70" x2="567.24" y2="478.70" stroke="#000" stroke-width="1.2" />
<line x1="567.24" y1="274.60" x2="567.24" y2="277.60" stroke="#000" stroke-width="1.2" />
<text x="567.24" y="496.20" font-size="10.0" text-anchor="middle" fill="#000" >20</text>
<line x1="604.73" y1="481.70" x2="604.73" y2="478.70" stroke="#000" stroke-width="1.2" />
<line x1="604.73" y1="274.60" x2="604.73" y2="277.60" stroke="#000" stroke-width="1.2" />
<text x="604.73" y="496.20" font-size="10.0" text-anchor="middle" fill="#000" >25</text>
<line x1="642.21" y1="481.70" x2="642.21" y2="478.70" stroke="#000" stroke-width="1.2" />
<line x1="642.21" y1="274.60" x2="642.21" y2="277.60" stroke="#000" stroke-width="1.2" />
<text x="642.21" y="496.20" font-size="10.0" text-anchor="middle" fill="#000" >30</text>
<text x="679.70" y="496.20" font-size="10.0" text-anchor="middle" fill="#000" >35</text>
<text x="555.30" y="512.30" font-size="10.2" text-anchor="middle" fill="#000" >Number of nozzles</text>
<text transform="translate(377.3,377.6) rotate(-90)" font-size="10.2" text-anchor="middle"><tspan font-style="italic">q</tspan> (mm<tspan font-size="6.6" dy="-3.6">3</tspan><tspan dy="3.6">/s)</tspan></text>
<defs>
<linearGradient id="dg" x1="0" y1="0" x2="1" y2="0"><stop offset="0" stop-color="rgb(206,26,8)"/><stop offset="0.1" stop-color="rgb(222,45,10)"/><stop offset="0.17" stop-color="rgb(234,95,14)"/><stop offset="0.23" stop-color="rgb(240,150,20)"/><stop offset="0.29" stop-color="rgb(240,198,22)"/><stop offset="0.35" stop-color="rgb(226,228,30)"/><stop offset="0.44" stop-color="rgb(182,240,62)"/><stop offset="0.52" stop-color="rgb(132,240,130)"/><stop offset="0.59" stop-color="rgb(84,228,200)"/><stop offset="0.66" stop-color="rgb(60,205,242)"/><stop offset="0.73" stop-color="rgb(52,166,246)"/><stop offset="0.8" stop-color="rgb(48,110,236)"/><stop offset="0.87" stop-color="rgb(40,62,210)"/><stop offset="0.94" stop-color="rgb(30,36,152)"/><stop offset="1" stop-color="rgb(26,26,122)"/></linearGradient><linearGradient id="dge" x1="0" y1="0" x2="1" y2="0"><stop offset="0" stop-color="#58b8f4"/><stop offset="0.5" stop-color="#4aa0f6"/><stop offset="0.8" stop-color="#3050e8"/><stop offset="1" stop-color="#2a30c0"/></linearGradient>
<linearGradient id="dgv" x1="0" y1="0" x2="0" y2="1">
<stop offset="0" stop-color="#b00000" stop-opacity="0.35"/><stop offset="0.3" stop-color="#b00000" stop-opacity="0.05"/><stop offset="0.7" stop-color="#b00000" stop-opacity="0.05"/><stop offset="1" stop-color="#b00000" stop-opacity="0.35"/>
</linearGradient>
<linearGradient id="dgm" x1="0" y1="0" x2="1" y2="0"><stop offset="0" stop-color="#fff"/><stop offset="0.6" stop-color="#fff"/><stop offset="1" stop-color="#000"/></linearGradient>
<mask id="dmask"><rect x="466.1" y="297.9" width="60" height="31.4" fill="url(#dgm)"/></mask>
</defs>
<rect x="466.1" y="296.6" width="166" height="34" fill="url(#dg)"/><rect x="466.1" y="297.9" width="60" height="31.4" fill="url(#dgv)" mask="url(#dmask)"/>
<rect x="466.1" y="296.6" width="166" height="1.3" fill="url(#dge)"/>
<rect x="466.1" y="329.3" width="166" height="1.3" fill="url(#dge)"/>
<rect x="469.60" y="312.6" width="1.8" height="1.8" fill="#800000" opacity="0.76"/>
<rect x="472.10" y="312.6" width="1.6" height="1.8" fill="#ffe060" opacity="0.7"/>
<rect x="474.96" y="312.6" width="1.8" height="1.8" fill="#800000" opacity="0.71"/>
<rect x="477.46" y="312.6" width="1.6" height="1.8" fill="#ffe060" opacity="0.7"/>
<rect x="480.32" y="312.6" width="1.8" height="1.8" fill="#800000" opacity="0.66"/>
<rect x="482.82" y="312.6" width="1.6" height="1.8" fill="#ffe060" opacity="0.7"/>
<rect x="485.68" y="312.6" width="1.8" height="1.8" fill="#800000" opacity="0.61"/>
<rect x="488.18" y="312.6" width="1.6" height="1.8" fill="#ffe060" opacity="0.7"/>
<rect x="491.04" y="312.6" width="1.8" height="1.8" fill="#800000" opacity="0.57"/>
<rect x="493.54" y="312.6" width="1.6" height="1.8" fill="#ffe060" opacity="0.7"/>
<rect x="496.40" y="312.6" width="1.8" height="1.8" fill="#800000" opacity="0.52"/>
<rect x="498.90" y="312.6" width="1.6" height="1.8" fill="#ffe060" opacity="0.7"/>
<rect x="501.76" y="312.6" width="1.8" height="1.8" fill="#800000" opacity="0.47"/>
<rect x="504.26" y="312.6" width="1.6" height="1.8" fill="#ffe060" opacity="0.7"/>
<rect x="507.12" y="312.6" width="1.8" height="1.8" fill="#800000" opacity="0.42"/>
<rect x="509.62" y="312.6" width="1.6" height="1.8" fill="#ffe060" opacity="0.7"/>
<rect x="512.48" y="312.6" width="1.8" height="1.8" fill="#800000" opacity="0.37"/>
<rect x="514.98" y="312.6" width="1.6" height="1.8" fill="#ffe060" opacity="0.7"/>
<rect x="517.84" y="312.6" width="1.8" height="1.8" fill="#800000" opacity="0.32"/>
<rect x="520.34" y="312.6" width="1.6" height="1.8" fill="#ffe060" opacity="0.7"/>
<rect x="523.20" y="312.6" width="1.8" height="1.8" fill="#800000" opacity="0.28"/>
<rect x="525.70" y="312.6" width="1.6" height="1.8" fill="#ffe060" opacity="0.7"/>
<rect x="528.66" y="312.5" width="1.6" height="2" fill="#f0ffa0" opacity="0.75"/>
<rect x="534.02" y="312.5" width="1.6" height="2" fill="#f0ffa0" opacity="0.75"/>
<rect x="539.38" y="312.5" width="1.6" height="2" fill="#f0ffa0" opacity="0.75"/>
<rect x="544.74" y="312.5" width="1.6" height="2" fill="#f0ffa0" opacity="0.75"/>
<rect x="550.10" y="312.5" width="1.6" height="2" fill="#f0ffa0" opacity="0.75"/>
<rect x="555.46" y="312.5" width="1.6" height="2" fill="#f0ffa0" opacity="0.75"/>
<rect x="560.82" y="312.5" width="1.6" height="2" fill="#b0f0ff" opacity="0.75"/>
<rect x="566.18" y="312.5" width="1.6" height="2" fill="#b0f0ff" opacity="0.75"/>
<rect x="571.54" y="312.5" width="1.6" height="2" fill="#b0f0ff" opacity="0.75"/>
<rect x="576.90" y="312.5" width="1.6" height="2" fill="#b0f0ff" opacity="0.75"/>
<rect x="582.26" y="312.5" width="1.6" height="2" fill="#b0f0ff" opacity="0.75"/>
<rect x="587.62" y="312.5" width="1.6" height="2" fill="#b0f0ff" opacity="0.75"/>
<rect x="592.98" y="312.5" width="1.6" height="2" fill="#80c8ff" opacity="0.75"/>
<rect x="598.34" y="312.5" width="1.6" height="2" fill="#80c8ff" opacity="0.75"/>
<rect x="603.70" y="312.5" width="1.6" height="2" fill="#80c8ff" opacity="0.75"/>
<rect x="609.06" y="312.5" width="1.6" height="2" fill="#80c8ff" opacity="0.75"/>
<rect x="614.42" y="312.5" width="1.6" height="2" fill="#80c8ff" opacity="0.75"/>
<rect x="619.78" y="312.5" width="1.6" height="2" fill="#80c8ff" opacity="0.75"/>
<rect x="625.14" y="312.5" width="1.6" height="2" fill="#80c8ff" opacity="0.75"/>
<path d="M625.9,274.4 V290" stroke="#000" stroke-width="1"/>
<path d="M621.8,289 L630,289 L625.9,296.8 Z" fill="#000"/>
<path d="M625.9,338 V355.5" stroke="#000" stroke-width="1"/>
<path d="M621.8,339.3 L630,339.3 L625.9,330.8 Z" fill="#000"/>
<text x="635.8" y="316.4" font-size="9.0" font-style="italic">W<tspan font-size="5.8" dy="2.4" font-style="normal">1</tspan></text>
<polyline points="424.80,356.20 432.29,362.30 439.79,368.40 447.29,373.10 454.79,378.50 462.28,377.10 469.78,384.10 477.28,390.60 484.77,396.30 492.27,397.00 499.77,405.40 507.27,409.80 514.76,411.20 522.26,415.50 529.76,417.50 537.25,422.90 544.75,425.00 552.25,426.40 559.75,429.40 567.24,427.80 574.74,431.30 582.24,435.60 589.73,434.20 597.23,441.60 604.73,436.50 612.23,437.70 619.72,436.50 627.22,437.70 634.72,437.40 642.21,440.80 649.71,440.00" fill="none" stroke="#0f0" stroke-width="1.2" stroke-linejoin="round"/>
<rect x="422.50" y="353.90" width="4.6" height="4.6" fill="#0f0"/>
<rect x="429.99" y="360.00" width="4.6" height="4.6" fill="#0f0"/>
<rect x="437.49" y="366.10" width="4.6" height="4.6" fill="#0f0"/>
<rect x="444.99" y="370.80" width="4.6" height="4.6" fill="#0f0"/>
<rect x="452.49" y="376.20" width="4.6" height="4.6" fill="#0f0"/>
<rect x="459.98" y="374.80" width="4.6" height="4.6" fill="#0f0"/>
<rect x="467.48" y="381.80" width="4.6" height="4.6" fill="#0f0"/>
<rect x="474.98" y="388.30" width="4.6" height="4.6" fill="#0f0"/>
<rect x="482.47" y="394.00" width="4.6" height="4.6" fill="#0f0"/>
<rect x="489.97" y="394.70" width="4.6" height="4.6" fill="#0f0"/>
<rect x="497.47" y="403.10" width="4.6" height="4.6" fill="#0f0"/>
<rect x="504.97" y="407.50" width="4.6" height="4.6" fill="#0f0"/>
<rect x="512.46" y="408.90" width="4.6" height="4.6" fill="#0f0"/>
<rect x="519.96" y="413.20" width="4.6" height="4.6" fill="#0f0"/>
<rect x="527.46" y="415.20" width="4.6" height="4.6" fill="#0f0"/>
<rect x="534.95" y="420.60" width="4.6" height="4.6" fill="#0f0"/>
<rect x="542.45" y="422.70" width="4.6" height="4.6" fill="#0f0"/>
<rect x="549.95" y="424.10" width="4.6" height="4.6" fill="#0f0"/>
<rect x="557.45" y="427.10" width="4.6" height="4.6" fill="#0f0"/>
<rect x="564.94" y="425.50" width="4.6" height="4.6" fill="#0f0"/>
<rect x="572.44" y="429.00" width="4.6" height="4.6" fill="#0f0"/>
<rect x="579.94" y="433.30" width="4.6" height="4.6" fill="#0f0"/>
<rect x="587.43" y="431.90" width="4.6" height="4.6" fill="#0f0"/>
<rect x="594.93" y="439.30" width="4.6" height="4.6" fill="#0f0"/>
<rect x="602.43" y="434.20" width="4.6" height="4.6" fill="#0f0"/>
<rect x="609.93" y="435.40" width="4.6" height="4.6" fill="#0f0"/>
<rect x="617.42" y="434.20" width="4.6" height="4.6" fill="#0f0"/>
<rect x="624.92" y="435.40" width="4.6" height="4.6" fill="#0f0"/>
<rect x="632.42" y="435.10" width="4.6" height="4.6" fill="#0f0"/>
<rect x="639.91" y="438.50" width="4.6" height="4.6" fill="#0f0"/>
<rect x="647.41" y="437.70" width="4.6" height="4.6" fill="#0f0"/>
<polyline points="424.80,382.90 432.29,385.20 439.79,389.60 447.29,390.40 454.79,395.70 462.28,399.90 469.78,404.20 477.28,398.40 484.77,405.20 492.27,410.60 499.77,412.30 507.27,410.40 514.76,415.20 522.26,419.00 529.76,415.60 537.25,421.20 544.75,423.30 552.25,426.70 559.75,425.50 567.24,424.30 574.74,427.60 582.24,431.60 589.73,432.20 597.23,431.60 604.73,430.40 612.23,431.10 619.72,432.20 627.22,433.40 634.72,433.00 642.21,431.20 649.71,430.10" fill="none" stroke="#00f" stroke-width="1.2" stroke-linejoin="round"/>
<rect x="422.50" y="380.60" width="4.6" height="4.6" fill="#00f"/>
<rect x="429.99" y="382.90" width="4.6" height="4.6" fill="#00f"/>
<rect x="437.49" y="387.30" width="4.6" height="4.6" fill="#00f"/>
<rect x="444.99" y="388.10" width="4.6" height="4.6" fill="#00f"/>
<rect x="452.49" y="393.40" width="4.6" height="4.6" fill="#00f"/>
<rect x="459.98" y="397.60" width="4.6" height="4.6" fill="#00f"/>
<rect x="467.48" y="401.90" width="4.6" height="4.6" fill="#00f"/>
<rect x="474.98" y="396.10" width="4.6" height="4.6" fill="#00f"/>
<rect x="482.47" y="402.90" width="4.6" height="4.6" fill="#00f"/>
<rect x="489.97" y="408.30" width="4.6" height="4.6" fill="#00f"/>
<rect x="497.47" y="410.00" width="4.6" height="4.6" fill="#00f"/>
<rect x="504.97" y="408.10" width="4.6" height="4.6" fill="#00f"/>
<rect x="512.46" y="412.90" width="4.6" height="4.6" fill="#00f"/>
<rect x="519.96" y="416.70" width="4.6" height="4.6" fill="#00f"/>
<rect x="527.46" y="413.30" width="4.6" height="4.6" fill="#00f"/>
<rect x="534.95" y="418.90" width="4.6" height="4.6" fill="#00f"/>
<rect x="542.45" y="421.00" width="4.6" height="4.6" fill="#00f"/>
<rect x="549.95" y="424.40" width="4.6" height="4.6" fill="#00f"/>
<rect x="557.45" y="423.20" width="4.6" height="4.6" fill="#00f"/>
<rect x="564.94" y="422.00" width="4.6" height="4.6" fill="#00f"/>
<rect x="572.44" y="425.30" width="4.6" height="4.6" fill="#00f"/>
<rect x="579.94" y="429.30" width="4.6" height="4.6" fill="#00f"/>
<rect x="587.43" y="429.90" width="4.6" height="4.6" fill="#00f"/>
<rect x="594.93" y="429.30" width="4.6" height="4.6" fill="#00f"/>
<rect x="602.43" y="428.10" width="4.6" height="4.6" fill="#00f"/>
<rect x="609.93" y="428.80" width="4.6" height="4.6" fill="#00f"/>
<rect x="617.42" y="429.90" width="4.6" height="4.6" fill="#00f"/>
<rect x="624.92" y="431.10" width="4.6" height="4.6" fill="#00f"/>
<rect x="632.42" y="430.70" width="4.6" height="4.6" fill="#00f"/>
<rect x="639.91" y="428.90" width="4.6" height="4.6" fill="#00f"/>
<rect x="647.41" y="427.80" width="4.6" height="4.6" fill="#00f"/>
<polyline points="424.80,390.50 432.29,395.30 439.79,398.00 447.29,399.20 454.79,401.30 462.28,397.80 469.78,400.20 477.28,402.90 484.77,409.80 492.27,406.30 499.77,412.90 507.27,414.70 514.76,412.50 522.26,415.80 529.76,417.00 537.25,417.70 544.75,417.30 552.25,418.20 559.75,421.50 567.24,415.10 574.74,419.10 582.24,422.90 589.73,418.50 597.23,427.30 604.73,424.70 612.23,422.90 619.72,420.80 627.22,421.70 634.72,422.00 642.21,425.80 649.71,423.40" fill="none" stroke="#000" stroke-width="1.2" stroke-linejoin="round"/>
<rect x="422.50" y="388.20" width="4.6" height="4.6" fill="#000"/>
<rect x="429.99" y="393.00" width="4.6" height="4.6" fill="#000"/>
<rect x="437.49" y="395.70" width="4.6" height="4.6" fill="#000"/>
<rect x="444.99" y="396.90" width="4.6" height="4.6" fill="#000"/>
<rect x="452.49" y="399.00" width="4.6" height="4.6" fill="#000"/>
<rect x="459.98" y="395.50" width="4.6" height="4.6" fill="#000"/>
<rect x="467.48" y="397.90" width="4.6" height="4.6" fill="#000"/>
<rect x="474.98" y="400.60" width="4.6" height="4.6" fill="#000"/>
<rect x="482.47" y="407.50" width="4.6" height="4.6" fill="#000"/>
<rect x="489.97" y="404.00" width="4.6" height="4.6" fill="#000"/>
<rect x="497.47" y="410.60" width="4.6" height="4.6" fill="#000"/>
<rect x="504.97" y="412.40" width="4.6" height="4.6" fill="#000"/>
<rect x="512.46" y="410.20" width="4.6" height="4.6" fill="#000"/>
<rect x="519.96" y="413.50" width="4.6" height="4.6" fill="#000"/>
<rect x="527.46" y="414.70" width="4.6" height="4.6" fill="#000"/>
<rect x="534.95" y="415.40" width="4.6" height="4.6" fill="#000"/>
<rect x="542.45" y="415.00" width="4.6" height="4.6" fill="#000"/>
<rect x="549.95" y="415.90" width="4.6" height="4.6" fill="#000"/>
<rect x="557.45" y="419.20" width="4.6" height="4.6" fill="#000"/>
<rect x="564.94" y="412.80" width="4.6" height="4.6" fill="#000"/>
<rect x="572.44" y="416.80" width="4.6" height="4.6" fill="#000"/>
<rect x="579.94" y="420.60" width="4.6" height="4.6" fill="#000"/>
<rect x="587.43" y="416.20" width="4.6" height="4.6" fill="#000"/>
<rect x="594.93" y="425.00" width="4.6" height="4.6" fill="#000"/>
<rect x="602.43" y="422.40" width="4.6" height="4.6" fill="#000"/>
<rect x="609.93" y="420.60" width="4.6" height="4.6" fill="#000"/>
<rect x="617.42" y="418.50" width="4.6" height="4.6" fill="#000"/>
<rect x="624.92" y="419.40" width="4.6" height="4.6" fill="#000"/>
<rect x="632.42" y="419.70" width="4.6" height="4.6" fill="#000"/>
<rect x="639.91" y="423.50" width="4.6" height="4.6" fill="#000"/>
<rect x="647.41" y="421.10" width="4.6" height="4.6" fill="#000"/>
<polyline points="424.80,295.10 432.29,307.70 439.79,313.30 447.29,318.80 454.79,336.50 462.28,352.90 469.78,363.60 477.28,367.30 484.77,377.00 492.27,383.60 499.77,391.80 507.27,403.10 514.76,408.50 522.26,414.10 529.76,425.20 537.25,434.20 544.75,438.10 552.25,439.50 559.75,448.20 567.24,454.70 574.74,456.40 582.24,462.20 589.73,464.20 597.23,466.50 604.73,465.60 612.23,471.20 619.72,473.80 627.22,470.40 634.72,470.40 642.21,474.90 649.71,473.10" fill="none" stroke="#f00" stroke-width="1.2" stroke-linejoin="round"/>
<rect x="422.50" y="292.80" width="4.6" height="4.6" fill="#f00"/>
<rect x="429.99" y="305.40" width="4.6" height="4.6" fill="#f00"/>
<rect x="437.49" y="311.00" width="4.6" height="4.6" fill="#f00"/>
<rect x="444.99" y="316.50" width="4.6" height="4.6" fill="#f00"/>
<rect x="452.49" y="334.20" width="4.6" height="4.6" fill="#f00"/>
<rect x="459.98" y="350.60" width="4.6" height="4.6" fill="#f00"/>
<rect x="467.48" y="361.30" width="4.6" height="4.6" fill="#f00"/>
<rect x="474.98" y="365.00" width="4.6" height="4.6" fill="#f00"/>
<rect x="482.47" y="374.70" width="4.6" height="4.6" fill="#f00"/>
<rect x="489.97" y="381.30" width="4.6" height="4.6" fill="#f00"/>
<rect x="497.47" y="389.50" width="4.6" height="4.6" fill="#f00"/>
<rect x="504.97" y="400.80" width="4.6" height="4.6" fill="#f00"/>
<rect x="512.46" y="406.20" width="4.6" height="4.6" fill="#f00"/>
<rect x="519.96" y="411.80" width="4.6" height="4.6" fill="#f00"/>
<rect x="527.46" y="422.90" width="4.6" height="4.6" fill="#f00"/>
<rect x="534.95" y="431.90" width="4.6" height="4.6" fill="#f00"/>
<rect x="542.45" y="435.80" width="4.6" height="4.6" fill="#f00"/>
<rect x="549.95" y="437.20" width="4.6" height="4.6" fill="#f00"/>
<rect x="557.45" y="445.90" width="4.6" height="4.6" fill="#f00"/>
<rect x="564.94" y="452.40" width="4.6" height="4.6" fill="#f00"/>
<rect x="572.44" y="454.10" width="4.6" height="4.6" fill="#f00"/>
<rect x="579.94" y="459.90" width="4.6" height="4.6" fill="#f00"/>
<rect x="587.43" y="461.90" width="4.6" height="4.6" fill="#f00"/>
<rect x="594.93" y="464.20" width="4.6" height="4.6" fill="#f00"/>
<rect x="602.43" y="463.30" width="4.6" height="4.6" fill="#f00"/>
<rect x="609.93" y="468.90" width="4.6" height="4.6" fill="#f00"/>
<rect x="617.42" y="471.50" width="4.6" height="4.6" fill="#f00"/>
<rect x="624.92" y="468.10" width="4.6" height="4.6" fill="#f00"/>
<rect x="632.42" y="468.10" width="4.6" height="4.6" fill="#f00"/>
<rect x="639.91" y="472.60" width="4.6" height="4.6" fill="#f00"/>
<rect x="647.41" y="470.80" width="4.6" height="4.6" fill="#f00"/>
<line x1="417.30" y1="274.60" x2="679.70" y2="274.60" stroke="#262626" stroke-width="1.15" />
<line x1="417.30" y1="481.70" x2="679.70" y2="481.70" stroke="#262626" stroke-width="1.15" />
<line x1="417.30" y1="274.03" x2="417.30" y2="482.27" stroke="#262626" stroke-width="1.15" />
<line x1="679.70" y1="274.03" x2="679.70" y2="482.27" stroke="#262626" stroke-width="1.15" />
<rect x="512.2" y="355.1" width="10.6" height="9.8" fill="#f00"/>
<text x="527.40" y="363.50" font-size="8.9"><tspan font-style="italic">W</tspan><tspan font-size="5.4" dy="2.2">1</tspan><tspan dy="-2.2" dx="1.6">= 1 mm</tspan></text>
<rect x="512.2" y="376.9" width="10.6" height="9.8" fill="#0f0"/>
<text x="527.40" y="385.30" font-size="8.9"><tspan font-style="italic">W</tspan><tspan font-size="5.4" dy="2.2">1</tspan><tspan dy="-2.2" dx="1.6">= 2 mm</tspan></text>
<rect x="588.5" y="355.1" width="10.6" height="9.8" fill="#00f"/>
<text x="603.70" y="363.50" font-size="8.9"><tspan font-style="italic">W</tspan><tspan font-size="5.4" dy="2.2">1</tspan><tspan dy="-2.2" dx="1.6">= 3 mm</tspan></text>
<rect x="588.5" y="376.9" width="10.6" height="9.8" fill="#000"/>
<text x="603.70" y="385.30" font-size="8.9"><tspan font-style="italic">W</tspan><tspan font-size="5.4" dy="2.2">1</tspan><tspan dy="-2.2" dx="1.6">= 5 mm</tspan></text>
</svg></body></html>
